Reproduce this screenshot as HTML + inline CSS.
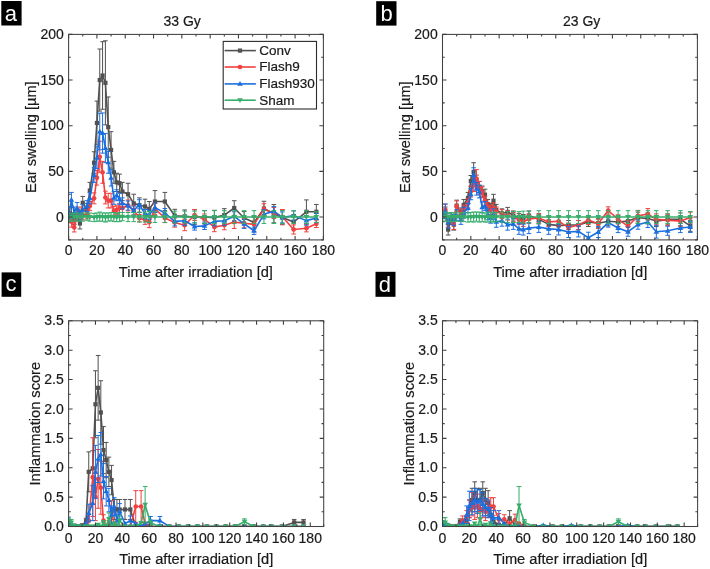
<!DOCTYPE html><html><head><meta charset="utf-8"><style>html,body{margin:0;padding:0;background:#fff;}svg{display:block;will-change:transform;}text{font-family:"Liberation Sans", sans-serif;fill:#1a1a1a;stroke:#1a1a1a;stroke-width:0.2px;}</style></head><body>
<svg width="710" height="569" viewBox="0 0 710 569">
<rect width="710" height="569" fill="#fff"/>
<g font-size="14">
<clipPath id="c6834"><rect x="68.6" y="34.4" width="254.8" height="205.5"/></clipPath>
<g clip-path="url(#c6834)">
<path d="M68.6 211.59V222.55M66.3 211.59H70.9M66.3 222.55H70.9M71.43 207.02V221.63M69.13 207.02H73.73M69.13 221.63H73.73M74.26 213.41V224.37M71.96 213.41H76.56M71.96 224.37H76.56M77.09 209.76V220.72M74.79 209.76H79.39M74.79 220.72H79.39M79.92 217.98V228.94M77.62 217.98H82.22M77.62 228.94H82.22M82.76 196.43V209.21M80.46 196.43H85.06M80.46 209.21H85.06M87 203.37V216.15M84.7 203.37H89.3M84.7 216.15H89.3M89.83 182.36V198.8M87.53 182.36H92.13M87.53 198.8H92.13M94.08 151.76V173.68M91.78 151.76H96.38M91.78 173.68H96.38M96.91 101.07V144.91M94.61 101.07H99.21M94.61 144.91H99.21M99.74 49.01V111.12M97.44 49.01H102.04M97.44 111.12H102.04M102.57 41.71V109.29M100.27 41.71H104.87M100.27 109.29H104.87M105.4 40.79V124.82M103.1 40.79H107.7M103.1 124.82H107.7M108.24 96.96V157.24M105.94 96.96H110.54M105.94 157.24H110.54M111.07 131.67V168.2M108.77 131.67H113.37M108.77 168.2H113.37M113.9 161.35V183.27M111.6 161.35H116.2M111.6 183.27H116.2M116.73 173.23V191.49M114.43 173.23H119.03M114.43 191.49H119.03M119.56 174.14V192.41M117.26 174.14H121.86M117.26 192.41H121.86M122.39 182.36V200.63M120.09 182.36H124.69M120.09 200.63H124.69M128.05 183.27V205.19M125.75 183.27H130.35M125.75 205.19H130.35M133.72 194.23V212.5M131.42 194.23H136.02M131.42 212.5H136.02M139.38 197.89V212.5M137.08 197.89H141.68M137.08 212.5H141.68M145.04 199.17V213.78M142.74 199.17H147.34M142.74 213.78H147.34M149.29 201.54V216.15M146.99 201.54H151.59M146.99 216.15H151.59M154.95 190.58V212.5M152.65 190.58H157.25M152.65 212.5H157.25M164.86 192.41V210.67M162.56 192.41H167.16M162.56 210.67H167.16M174.77 209.3V222.09M172.47 209.3H177.07M172.47 222.09H177.07M184.68 209.94V222.73M182.38 209.94H186.98M182.38 222.73H186.98M194.58 209.76V224.37M192.28 209.76H196.88M192.28 224.37H196.88M204.49 210.67V223.46M202.19 210.67H206.79M202.19 223.46H206.79M214.4 210.31V224.92M212.1 210.31H216.7M212.1 224.92H216.7M224.31 208.66V221.45M222.01 208.66H226.61M222.01 221.45H226.61M234.22 200.72V215.33M231.92 200.72H236.52M231.92 215.33H236.52M244.13 211.59V224.37M241.83 211.59H246.43M241.83 224.37H246.43M254.04 216.15V228.94M251.74 216.15H256.34M251.74 228.94H256.34M263.95 201.27V215.88M261.65 201.27H266.25M261.65 215.88H266.25M273.86 204.55V222.82M271.56 204.55H276.16M271.56 222.82H276.16M282.35 210.13V224.74M280.05 210.13H284.65M280.05 224.74H284.65M293.67 214.6V229.21M291.37 214.6H295.97M291.37 229.21H295.97M306.41 199.9V223.64M304.11 199.9H308.71M304.11 223.64H308.71M316.32 204.46V219.08M314.02 204.46H318.62M314.02 219.08H318.62" stroke="#515151" stroke-width="1" fill="none"/>
<polyline points="68.6,217.07 71.43,214.33 74.26,218.89 77.09,215.24 79.92,223.46 82.76,202.82 87,209.76 89.83,190.58 94.08,162.72 96.91,122.99 99.74,80.07 102.57,75.5 105.4,82.81 108.24,127.1 111.07,149.94 113.9,172.31 116.73,182.36 119.56,183.27 122.39,191.49 128.05,194.23 133.72,203.37 139.38,205.19 145.04,206.47 149.29,208.85 154.95,201.54 164.86,201.54 174.77,215.7 184.68,216.34 194.58,217.07 204.49,217.07 214.4,217.61 224.31,215.06 234.22,208.02 244.13,217.98 254.04,222.55 263.95,208.57 273.86,213.69 282.35,217.43 293.67,221.91 306.41,211.77 316.32,211.77" stroke="#515151" stroke-width="1.6" fill="none" stroke-linejoin="round"/>
<rect x="66.5" y="214.97" width="4.2" height="4.2" fill="#515151"/>
<rect x="69.33" y="212.23" width="4.2" height="4.2" fill="#515151"/>
<rect x="72.16" y="216.79" width="4.2" height="4.2" fill="#515151"/>
<rect x="74.99" y="213.14" width="4.2" height="4.2" fill="#515151"/>
<rect x="77.82" y="221.36" width="4.2" height="4.2" fill="#515151"/>
<rect x="80.66" y="200.72" width="4.2" height="4.2" fill="#515151"/>
<rect x="84.9" y="207.66" width="4.2" height="4.2" fill="#515151"/>
<rect x="87.73" y="188.48" width="4.2" height="4.2" fill="#515151"/>
<rect x="91.98" y="160.62" width="4.2" height="4.2" fill="#515151"/>
<rect x="94.81" y="120.89" width="4.2" height="4.2" fill="#515151"/>
<rect x="97.64" y="77.97" width="4.2" height="4.2" fill="#515151"/>
<rect x="100.47" y="73.4" width="4.2" height="4.2" fill="#515151"/>
<rect x="103.3" y="80.71" width="4.2" height="4.2" fill="#515151"/>
<rect x="106.14" y="125" width="4.2" height="4.2" fill="#515151"/>
<rect x="108.97" y="147.84" width="4.2" height="4.2" fill="#515151"/>
<rect x="111.8" y="170.21" width="4.2" height="4.2" fill="#515151"/>
<rect x="114.63" y="180.26" width="4.2" height="4.2" fill="#515151"/>
<rect x="117.46" y="181.17" width="4.2" height="4.2" fill="#515151"/>
<rect x="120.29" y="189.39" width="4.2" height="4.2" fill="#515151"/>
<rect x="125.95" y="192.13" width="4.2" height="4.2" fill="#515151"/>
<rect x="131.62" y="201.27" width="4.2" height="4.2" fill="#515151"/>
<rect x="137.28" y="203.09" width="4.2" height="4.2" fill="#515151"/>
<rect x="142.94" y="204.37" width="4.2" height="4.2" fill="#515151"/>
<rect x="147.19" y="206.75" width="4.2" height="4.2" fill="#515151"/>
<rect x="152.85" y="199.44" width="4.2" height="4.2" fill="#515151"/>
<rect x="162.76" y="199.44" width="4.2" height="4.2" fill="#515151"/>
<rect x="172.67" y="213.6" width="4.2" height="4.2" fill="#515151"/>
<rect x="182.58" y="214.24" width="4.2" height="4.2" fill="#515151"/>
<rect x="192.48" y="214.97" width="4.2" height="4.2" fill="#515151"/>
<rect x="202.39" y="214.97" width="4.2" height="4.2" fill="#515151"/>
<rect x="212.3" y="215.51" width="4.2" height="4.2" fill="#515151"/>
<rect x="222.21" y="212.96" width="4.2" height="4.2" fill="#515151"/>
<rect x="232.12" y="205.92" width="4.2" height="4.2" fill="#515151"/>
<rect x="242.03" y="215.88" width="4.2" height="4.2" fill="#515151"/>
<rect x="251.94" y="220.45" width="4.2" height="4.2" fill="#515151"/>
<rect x="261.85" y="206.47" width="4.2" height="4.2" fill="#515151"/>
<rect x="271.76" y="211.59" width="4.2" height="4.2" fill="#515151"/>
<rect x="280.25" y="215.33" width="4.2" height="4.2" fill="#515151"/>
<rect x="291.57" y="219.81" width="4.2" height="4.2" fill="#515151"/>
<rect x="304.31" y="209.67" width="4.2" height="4.2" fill="#515151"/>
<rect x="314.22" y="209.67" width="4.2" height="4.2" fill="#515151"/>
<path d="M68.6 212.5V221.63M66.3 212.5H70.9M66.3 221.63H70.9M71.43 216.15V227.11M69.13 216.15H73.73M69.13 227.11H73.73M74.26 222.82V231.95M71.96 222.82H76.56M71.96 231.95H76.56M77.09 209.76V218.89M74.79 209.76H79.39M74.79 218.89H79.39M79.92 207.02V217.98M77.62 207.02H82.22M77.62 217.98H82.22M82.76 210.67V219.81M80.46 210.67H85.06M80.46 219.81H85.06M87 209.76V218.89M84.7 209.76H89.3M84.7 218.89H89.3M89.83 201.54V210.67M87.53 201.54H92.13M87.53 210.67H92.13M94.08 192.86V203.82M91.78 192.86H96.38M91.78 203.82H96.38M96.91 170.49V185.1M94.61 170.49H99.21M94.61 185.1H99.21M99.74 141.26V172.31M97.44 141.26H102.04M97.44 172.31H102.04M102.57 161.35V183.27M100.27 161.35H104.87M100.27 183.27H104.87M105.4 191.13V203.91M103.1 191.13H107.7M103.1 203.91H107.7M108.24 193.32V207.93M105.94 193.32H110.54M105.94 207.93H110.54M111.07 193.32V207.93M108.77 193.32H113.37M108.77 207.93H113.37M113.9 206.38V215.51M111.6 206.38H116.2M111.6 215.51H116.2M116.73 205.19V214.33M114.43 205.19H119.03M114.43 214.33H119.03M119.56 203.37V212.5M117.26 203.37H121.86M117.26 212.5H121.86M122.39 203.37V212.5M120.09 203.37H124.69M120.09 212.5H124.69M128.05 199.99V210.95M125.75 199.99H130.35M125.75 210.95H130.35M133.72 205.65V214.78M131.42 205.65H136.02M131.42 214.78H136.02M139.38 214.51V221.82M137.08 214.51H141.68M137.08 221.82H141.68M145.04 215.24V224.37M142.74 215.24H147.34M142.74 224.37H147.34M149.29 216.7V227.66M146.99 216.7H151.59M146.99 227.66H151.59M154.95 203.37V214.33M152.65 203.37H157.25M152.65 214.33H157.25M164.86 213.41V222.55M162.56 213.41H167.16M162.56 222.55H167.16M174.77 217.98V227.11M172.47 217.98H177.07M172.47 227.11H177.07M184.68 219.72V230.68M182.38 219.72H186.98M182.38 230.68H186.98M194.58 209.58V220.54M192.28 209.58H196.88M192.28 220.54H196.88M204.49 213.96V224.92M202.19 213.96H206.79M202.19 224.92H206.79M214.4 222.55V231.68M212.1 222.55H216.7M212.1 231.68H216.7M224.31 220.63V229.76M222.01 220.63H226.61M222.01 229.76H226.61M234.22 215.7V228.48M231.92 215.7H236.52M231.92 228.48H236.52M244.13 218.62V227.75M241.83 218.62H246.43M241.83 227.75H246.43M254.04 217.07V231.68M251.74 217.07H256.34M251.74 231.68H256.34M263.95 203.73V214.69M261.65 203.73H266.25M261.65 214.69H266.25M273.86 207.57V218.53M271.56 207.57H276.16M271.56 218.53H276.16M282.35 209.49V224.1M280.05 209.49H284.65M280.05 224.1H284.65M293.67 224.92V234.05M291.37 224.92H295.97M291.37 234.05H295.97M306.41 224.56V231.86M304.11 224.56H308.71M304.11 231.86H308.71M316.32 220.17V227.48M314.02 220.17H318.62M314.02 227.48H318.62" stroke="#F14040" stroke-width="1" fill="none"/>
<polyline points="68.6,217.07 71.43,221.63 74.26,227.39 77.09,214.33 79.92,212.5 82.76,215.24 87,214.33 89.83,206.11 94.08,198.34 96.91,177.79 99.74,156.79 102.57,172.31 105.4,197.52 108.24,200.63 111.07,200.63 113.9,210.95 116.73,209.76 119.56,207.93 122.39,207.93 128.05,205.47 133.72,210.22 139.38,218.16 145.04,219.81 149.29,222.18 154.95,208.85 164.86,217.98 174.77,222.55 184.68,225.2 194.58,215.06 204.49,219.44 214.4,227.11 224.31,225.2 234.22,222.09 244.13,223.19 254.04,224.37 263.95,209.21 273.86,213.05 282.35,216.79 293.67,229.49 306.41,228.21 316.32,223.83" stroke="#F14040" stroke-width="1.6" fill="none" stroke-linejoin="round"/>
<circle cx="68.6" cy="217.07" r="2.35" fill="#F14040"/>
<circle cx="71.43" cy="221.63" r="2.35" fill="#F14040"/>
<circle cx="74.26" cy="227.39" r="2.35" fill="#F14040"/>
<circle cx="77.09" cy="214.33" r="2.35" fill="#F14040"/>
<circle cx="79.92" cy="212.5" r="2.35" fill="#F14040"/>
<circle cx="82.76" cy="215.24" r="2.35" fill="#F14040"/>
<circle cx="87" cy="214.33" r="2.35" fill="#F14040"/>
<circle cx="89.83" cy="206.11" r="2.35" fill="#F14040"/>
<circle cx="94.08" cy="198.34" r="2.35" fill="#F14040"/>
<circle cx="96.91" cy="177.79" r="2.35" fill="#F14040"/>
<circle cx="99.74" cy="156.79" r="2.35" fill="#F14040"/>
<circle cx="102.57" cy="172.31" r="2.35" fill="#F14040"/>
<circle cx="105.4" cy="197.52" r="2.35" fill="#F14040"/>
<circle cx="108.24" cy="200.63" r="2.35" fill="#F14040"/>
<circle cx="111.07" cy="200.63" r="2.35" fill="#F14040"/>
<circle cx="113.9" cy="210.95" r="2.35" fill="#F14040"/>
<circle cx="116.73" cy="209.76" r="2.35" fill="#F14040"/>
<circle cx="119.56" cy="207.93" r="2.35" fill="#F14040"/>
<circle cx="122.39" cy="207.93" r="2.35" fill="#F14040"/>
<circle cx="128.05" cy="205.47" r="2.35" fill="#F14040"/>
<circle cx="133.72" cy="210.22" r="2.35" fill="#F14040"/>
<circle cx="139.38" cy="218.16" r="2.35" fill="#F14040"/>
<circle cx="145.04" cy="219.81" r="2.35" fill="#F14040"/>
<circle cx="149.29" cy="222.18" r="2.35" fill="#F14040"/>
<circle cx="154.95" cy="208.85" r="2.35" fill="#F14040"/>
<circle cx="164.86" cy="217.98" r="2.35" fill="#F14040"/>
<circle cx="174.77" cy="222.55" r="2.35" fill="#F14040"/>
<circle cx="184.68" cy="225.2" r="2.35" fill="#F14040"/>
<circle cx="194.58" cy="215.06" r="2.35" fill="#F14040"/>
<circle cx="204.49" cy="219.44" r="2.35" fill="#F14040"/>
<circle cx="214.4" cy="227.11" r="2.35" fill="#F14040"/>
<circle cx="224.31" cy="225.2" r="2.35" fill="#F14040"/>
<circle cx="234.22" cy="222.09" r="2.35" fill="#F14040"/>
<circle cx="244.13" cy="223.19" r="2.35" fill="#F14040"/>
<circle cx="254.04" cy="224.37" r="2.35" fill="#F14040"/>
<circle cx="263.95" cy="209.21" r="2.35" fill="#F14040"/>
<circle cx="273.86" cy="213.05" r="2.35" fill="#F14040"/>
<circle cx="282.35" cy="216.79" r="2.35" fill="#F14040"/>
<circle cx="293.67" cy="229.49" r="2.35" fill="#F14040"/>
<circle cx="306.41" cy="228.21" r="2.35" fill="#F14040"/>
<circle cx="316.32" cy="223.83" r="2.35" fill="#F14040"/>
<path d="M68.6 212.5V221.63M66.3 212.5H70.9M66.3 221.63H70.9M71.43 192.41V207.02M69.13 192.41H73.73M69.13 207.02H73.73M74.26 207.02V217.98M71.96 207.02H76.56M71.96 217.98H76.56M77.09 202.45V213.41M74.79 202.45H79.39M74.79 213.41H79.39M79.92 210.67V219.81M77.62 210.67H82.22M77.62 219.81H82.22M82.76 204.28V215.24M80.46 204.28H85.06M80.46 215.24H85.06M87 200.63V211.59M84.7 200.63H89.3M84.7 211.59H89.3M89.83 192.86V203.82M87.53 192.86H92.13M87.53 203.82H92.13M94.08 167.75V182.36M91.78 167.75H96.38M91.78 182.36H96.38M96.91 146.74V168.66M94.61 146.74H99.21M94.61 168.66H99.21M99.74 113.22V149.75M97.44 113.22H102.04M97.44 149.75H102.04M102.57 112.95V153.13M100.27 112.95H104.87M100.27 153.13H104.87M105.4 133.41V162.63M103.1 133.41H107.7M103.1 162.63H107.7M108.24 151.31V173.23M105.94 151.31H110.54M105.94 173.23H110.54M111.07 169.57V186.01M108.77 169.57H113.37M108.77 186.01H113.37M113.9 191.49V204.28M111.6 191.49H116.2M111.6 204.28H116.2M116.73 189.76V200.72M114.43 189.76H119.03M114.43 200.72H119.03M119.56 193.32V204.28M117.26 193.32H121.86M117.26 204.28H121.86M122.39 197.89V208.85M120.09 197.89H124.69M120.09 208.85H124.69M128.05 200.99V210.13M125.75 200.99H130.35M125.75 210.13H130.35M133.72 206.11V215.24M131.42 206.11H136.02M131.42 215.24H136.02M139.38 199.71V208.85M137.08 199.71H141.68M137.08 208.85H141.68M145.04 209.49V218.62M142.74 209.49H147.34M142.74 218.62H147.34M149.29 210.22V219.35M146.99 210.22H151.59M146.99 219.35H151.59M154.95 203.09V212.23M152.65 203.09H157.25M152.65 212.23H157.25M164.86 208.48V217.61M162.56 208.48H167.16M162.56 217.61H167.16M174.77 216.79V225.93M172.47 216.79H177.07M172.47 225.93H177.07M184.68 216.15V225.29M182.38 216.15H186.98M182.38 225.29H186.98M194.58 222.82V230.13M192.28 222.82H196.88M192.28 230.13H196.88M204.49 222.18V229.49M202.19 222.18H206.79M202.19 229.49H206.79M214.4 216.79V225.93M212.1 216.79H216.7M212.1 225.93H216.7M224.31 216.15V225.29M222.01 216.15H226.61M222.01 225.29H226.61M234.22 211.77V220.9M231.92 211.77H236.52M231.92 220.9H236.52M244.13 219.26V228.39M241.83 219.26H246.43M241.83 228.39H246.43M254.04 227.11V234.42M251.74 227.11H256.34M251.74 234.42H256.34M263.95 209.76V218.89M261.65 209.76H266.25M261.65 218.89H266.25M273.86 206.56V215.7M271.56 206.56H276.16M271.56 215.7H276.16M282.35 211.95V222.91M280.05 211.95H284.65M280.05 222.91H284.65M293.67 210.95V220.08M291.37 210.95H295.97M291.37 220.08H295.97M306.41 216.06V225.2M304.11 216.06H308.71M304.11 225.2H308.71M316.32 213.5V222.64M314.02 213.5H318.62M314.02 222.64H318.62" stroke="#1A6FDF" stroke-width="1" fill="none"/>
<polyline points="68.6,217.07 71.43,199.71 74.26,212.5 77.09,207.93 79.92,215.24 82.76,209.76 87,206.11 89.83,198.34 94.08,175.05 96.91,157.7 99.74,131.49 102.57,133.04 105.4,148.02 108.24,162.27 111.07,177.79 113.9,197.89 116.73,195.24 119.56,198.8 122.39,203.37 128.05,205.56 133.72,210.67 139.38,204.28 145.04,214.05 149.29,214.78 154.95,207.66 164.86,213.05 174.77,221.36 184.68,220.72 194.58,226.47 204.49,225.83 214.4,221.36 224.31,220.72 234.22,216.34 244.13,223.83 254.04,230.77 263.95,214.33 273.86,211.13 282.35,217.43 293.67,215.51 306.41,220.63 316.32,218.07" stroke="#1A6FDF" stroke-width="1.6" fill="none" stroke-linejoin="round"/>
<path d="M68.6 214.27L71.4 219.03L65.8 219.03Z" fill="#1A6FDF"/>
<path d="M71.43 196.91L74.23 201.67L68.63 201.67Z" fill="#1A6FDF"/>
<path d="M74.26 209.7L77.06 214.46L71.46 214.46Z" fill="#1A6FDF"/>
<path d="M77.09 205.13L79.89 209.89L74.29 209.89Z" fill="#1A6FDF"/>
<path d="M79.92 212.44L82.72 217.2L77.12 217.2Z" fill="#1A6FDF"/>
<path d="M82.76 206.96L85.56 211.72L79.96 211.72Z" fill="#1A6FDF"/>
<path d="M87 203.31L89.8 208.07L84.2 208.07Z" fill="#1A6FDF"/>
<path d="M89.83 195.54L92.63 200.3L87.03 200.3Z" fill="#1A6FDF"/>
<path d="M94.08 172.25L96.88 177.01L91.28 177.01Z" fill="#1A6FDF"/>
<path d="M96.91 154.9L99.71 159.66L94.11 159.66Z" fill="#1A6FDF"/>
<path d="M99.74 128.69L102.54 133.45L96.94 133.45Z" fill="#1A6FDF"/>
<path d="M102.57 130.24L105.37 135L99.77 135Z" fill="#1A6FDF"/>
<path d="M105.4 145.22L108.2 149.98L102.6 149.98Z" fill="#1A6FDF"/>
<path d="M108.24 159.47L111.04 164.23L105.44 164.23Z" fill="#1A6FDF"/>
<path d="M111.07 174.99L113.87 179.75L108.27 179.75Z" fill="#1A6FDF"/>
<path d="M113.9 195.09L116.7 199.85L111.1 199.85Z" fill="#1A6FDF"/>
<path d="M116.73 192.44L119.53 197.2L113.93 197.2Z" fill="#1A6FDF"/>
<path d="M119.56 196L122.36 200.76L116.76 200.76Z" fill="#1A6FDF"/>
<path d="M122.39 200.57L125.19 205.33L119.59 205.33Z" fill="#1A6FDF"/>
<path d="M128.05 202.76L130.85 207.52L125.25 207.52Z" fill="#1A6FDF"/>
<path d="M133.72 207.87L136.52 212.63L130.92 212.63Z" fill="#1A6FDF"/>
<path d="M139.38 201.48L142.18 206.24L136.58 206.24Z" fill="#1A6FDF"/>
<path d="M145.04 211.25L147.84 216.01L142.24 216.01Z" fill="#1A6FDF"/>
<path d="M149.29 211.98L152.09 216.74L146.49 216.74Z" fill="#1A6FDF"/>
<path d="M154.95 204.86L157.75 209.62L152.15 209.62Z" fill="#1A6FDF"/>
<path d="M164.86 210.25L167.66 215.01L162.06 215.01Z" fill="#1A6FDF"/>
<path d="M174.77 218.56L177.57 223.32L171.97 223.32Z" fill="#1A6FDF"/>
<path d="M184.68 217.92L187.48 222.68L181.88 222.68Z" fill="#1A6FDF"/>
<path d="M194.58 223.67L197.38 228.43L191.78 228.43Z" fill="#1A6FDF"/>
<path d="M204.49 223.03L207.29 227.79L201.69 227.79Z" fill="#1A6FDF"/>
<path d="M214.4 218.56L217.2 223.32L211.6 223.32Z" fill="#1A6FDF"/>
<path d="M224.31 217.92L227.11 222.68L221.51 222.68Z" fill="#1A6FDF"/>
<path d="M234.22 213.54L237.02 218.3L231.42 218.3Z" fill="#1A6FDF"/>
<path d="M244.13 221.03L246.93 225.79L241.33 225.79Z" fill="#1A6FDF"/>
<path d="M254.04 227.97L256.84 232.73L251.24 232.73Z" fill="#1A6FDF"/>
<path d="M263.95 211.53L266.75 216.29L261.15 216.29Z" fill="#1A6FDF"/>
<path d="M273.86 208.33L276.66 213.09L271.06 213.09Z" fill="#1A6FDF"/>
<path d="M282.35 214.63L285.15 219.39L279.55 219.39Z" fill="#1A6FDF"/>
<path d="M293.67 212.71L296.47 217.47L290.87 217.47Z" fill="#1A6FDF"/>
<path d="M306.41 217.83L309.21 222.59L303.61 222.59Z" fill="#1A6FDF"/>
<path d="M316.32 215.27L319.12 220.03L313.52 220.03Z" fill="#1A6FDF"/>
<path d="M68.6 213.41V220.72M66.3 213.41H70.9M66.3 220.72H70.9M71.43 213.41V221.63M69.13 213.41H73.73M69.13 221.63H73.73M74.26 212.96V220.26M71.96 212.96H76.56M71.96 220.26H76.56M77.09 212.96V221.18M74.79 212.96H79.39M74.79 221.18H79.39M79.92 213.87V221.18M77.62 213.87H82.22M77.62 221.18H82.22M82.76 212.96V221.18M80.46 212.96H85.06M80.46 221.18H85.06M87 212.96V220.26M84.7 212.96H89.3M84.7 220.26H89.3M89.83 212.96V221.18M87.53 212.96H92.13M87.53 221.18H92.13M94.08 213.41V221.63M91.78 213.41H96.38M91.78 221.63H96.38M96.91 212.96V221.18M94.61 212.96H99.21M94.61 221.18H99.21M99.74 212.04V221.18M97.44 212.04H102.04M97.44 221.18H102.04M102.57 212.96V221.18M100.27 212.96H104.87M100.27 221.18H104.87M105.4 212.96V222.09M103.1 212.96H107.7M103.1 222.09H107.7M108.24 212.96V221.18M105.94 212.96H110.54M105.94 221.18H110.54M111.07 212.5V220.72M108.77 212.5H113.37M108.77 220.72H113.37M113.9 212.5V221.63M111.6 212.5H116.2M111.6 221.63H116.2M116.73 213.41V221.63M114.43 213.41H119.03M114.43 221.63H119.03M119.56 212.5V221.63M117.26 212.5H121.86M117.26 221.63H121.86M122.39 212.5V220.72M120.09 212.5H124.69M120.09 220.72H124.69M128.05 212.5V221.63M125.75 212.5H130.35M125.75 221.63H130.35M133.72 212.5V221.63M131.42 212.5H136.02M131.42 221.63H136.02M139.38 212.04V222.09M137.08 212.04H141.68M137.08 222.09H141.68M145.04 212.04V222.09M142.74 212.04H147.34M142.74 222.09H147.34M149.29 211.59V222.55M146.99 211.59H151.59M146.99 222.55H151.59M154.95 211.59V222.55M152.65 211.59H157.25M152.65 222.55H157.25M164.86 211.59V222.55M162.56 211.59H167.16M162.56 222.55H167.16M174.77 211.13V223M172.47 211.13H177.07M172.47 223H177.07M184.68 211.13V223M182.38 211.13H186.98M182.38 223H186.98M194.58 211.13V223M192.28 211.13H196.88M192.28 223H196.88M204.49 210.67V223.46M202.19 210.67H206.79M202.19 223.46H206.79M214.4 210.67V223.46M212.1 210.67H216.7M212.1 223.46H216.7M224.31 210.67V223.46M222.01 210.67H226.61M222.01 223.46H226.61M234.22 210.67V223.46M231.92 210.67H236.52M231.92 223.46H236.52M244.13 210.67V223.46M241.83 210.67H246.43M241.83 223.46H246.43M254.04 210.67V223.46M251.74 210.67H256.34M251.74 223.46H256.34M263.95 210.67V223.46M261.65 210.67H266.25M261.65 223.46H266.25M273.86 210.67V223.46M271.56 210.67H276.16M271.56 223.46H276.16M282.35 210.67V223.46M280.05 210.67H284.65M280.05 223.46H284.65M293.67 210.67V223.46M291.37 210.67H295.97M291.37 223.46H295.97M306.41 210.67V223.46M304.11 210.67H308.71M304.11 223.46H308.71M316.32 211.59V222.55M314.02 211.59H318.62M314.02 222.55H318.62" stroke="#37AD6B" stroke-width="1" fill="none"/>
<polyline points="68.6,217.07 71.43,217.52 74.26,216.61 77.09,217.07 79.92,217.52 82.76,217.07 87,216.61 89.83,217.07 94.08,217.52 96.91,217.07 99.74,216.61 102.57,217.07 105.4,217.52 108.24,217.07 111.07,216.61 113.9,217.07 116.73,217.52 119.56,217.07 122.39,216.61 128.05,217.07 133.72,217.07 139.38,217.07 145.04,217.07 149.29,217.07 154.95,217.07 164.86,217.07 174.77,217.07 184.68,217.07 194.58,217.07 204.49,217.07 214.4,217.07 224.31,217.07 234.22,217.07 244.13,217.07 254.04,217.07 263.95,217.07 273.86,217.07 282.35,217.07 293.67,217.07 306.41,217.07 316.32,217.07" stroke="#37AD6B" stroke-width="1.6" fill="none" stroke-linejoin="round"/>
<path d="M68.6 219.87L71.4 215.11L65.8 215.11Z" fill="#37AD6B"/>
<path d="M71.43 220.32L74.23 215.56L68.63 215.56Z" fill="#37AD6B"/>
<path d="M74.26 219.41L77.06 214.65L71.46 214.65Z" fill="#37AD6B"/>
<path d="M77.09 219.87L79.89 215.11L74.29 215.11Z" fill="#37AD6B"/>
<path d="M79.92 220.32L82.72 215.56L77.12 215.56Z" fill="#37AD6B"/>
<path d="M82.76 219.87L85.56 215.11L79.96 215.11Z" fill="#37AD6B"/>
<path d="M87 219.41L89.8 214.65L84.2 214.65Z" fill="#37AD6B"/>
<path d="M89.83 219.87L92.63 215.11L87.03 215.11Z" fill="#37AD6B"/>
<path d="M94.08 220.32L96.88 215.56L91.28 215.56Z" fill="#37AD6B"/>
<path d="M96.91 219.87L99.71 215.11L94.11 215.11Z" fill="#37AD6B"/>
<path d="M99.74 219.41L102.54 214.65L96.94 214.65Z" fill="#37AD6B"/>
<path d="M102.57 219.87L105.37 215.11L99.77 215.11Z" fill="#37AD6B"/>
<path d="M105.4 220.32L108.2 215.56L102.6 215.56Z" fill="#37AD6B"/>
<path d="M108.24 219.87L111.04 215.11L105.44 215.11Z" fill="#37AD6B"/>
<path d="M111.07 219.41L113.87 214.65L108.27 214.65Z" fill="#37AD6B"/>
<path d="M113.9 219.87L116.7 215.11L111.1 215.11Z" fill="#37AD6B"/>
<path d="M116.73 220.32L119.53 215.56L113.93 215.56Z" fill="#37AD6B"/>
<path d="M119.56 219.87L122.36 215.11L116.76 215.11Z" fill="#37AD6B"/>
<path d="M122.39 219.41L125.19 214.65L119.59 214.65Z" fill="#37AD6B"/>
<path d="M128.05 219.87L130.85 215.11L125.25 215.11Z" fill="#37AD6B"/>
<path d="M133.72 219.87L136.52 215.11L130.92 215.11Z" fill="#37AD6B"/>
<path d="M139.38 219.87L142.18 215.11L136.58 215.11Z" fill="#37AD6B"/>
<path d="M145.04 219.87L147.84 215.11L142.24 215.11Z" fill="#37AD6B"/>
<path d="M149.29 219.87L152.09 215.11L146.49 215.11Z" fill="#37AD6B"/>
<path d="M154.95 219.87L157.75 215.11L152.15 215.11Z" fill="#37AD6B"/>
<path d="M164.86 219.87L167.66 215.11L162.06 215.11Z" fill="#37AD6B"/>
<path d="M174.77 219.87L177.57 215.11L171.97 215.11Z" fill="#37AD6B"/>
<path d="M184.68 219.87L187.48 215.11L181.88 215.11Z" fill="#37AD6B"/>
<path d="M194.58 219.87L197.38 215.11L191.78 215.11Z" fill="#37AD6B"/>
<path d="M204.49 219.87L207.29 215.11L201.69 215.11Z" fill="#37AD6B"/>
<path d="M214.4 219.87L217.2 215.11L211.6 215.11Z" fill="#37AD6B"/>
<path d="M224.31 219.87L227.11 215.11L221.51 215.11Z" fill="#37AD6B"/>
<path d="M234.22 219.87L237.02 215.11L231.42 215.11Z" fill="#37AD6B"/>
<path d="M244.13 219.87L246.93 215.11L241.33 215.11Z" fill="#37AD6B"/>
<path d="M254.04 219.87L256.84 215.11L251.24 215.11Z" fill="#37AD6B"/>
<path d="M263.95 219.87L266.75 215.11L261.15 215.11Z" fill="#37AD6B"/>
<path d="M273.86 219.87L276.66 215.11L271.06 215.11Z" fill="#37AD6B"/>
<path d="M282.35 219.87L285.15 215.11L279.55 215.11Z" fill="#37AD6B"/>
<path d="M293.67 219.87L296.47 215.11L290.87 215.11Z" fill="#37AD6B"/>
<path d="M306.41 219.87L309.21 215.11L303.61 215.11Z" fill="#37AD6B"/>
<path d="M316.32 219.87L319.12 215.11L313.52 215.11Z" fill="#37AD6B"/>
</g>
<rect x="68.6" y="34.4" width="254.8" height="205.5" fill="none" stroke="#404040" stroke-width="1.05"/>
<path d="M68.6 239.9v-4M68.6 34.4v4M82.76 239.9v-2.2M82.76 34.4v2.2M96.91 239.9v-4M96.91 34.4v4M111.07 239.9v-2.2M111.07 34.4v2.2M125.22 239.9v-4M125.22 34.4v4M139.38 239.9v-2.2M139.38 34.4v2.2M153.53 239.9v-4M153.53 34.4v4M167.69 239.9v-2.2M167.69 34.4v2.2M181.84 239.9v-4M181.84 34.4v4M196 239.9v-2.2M196 34.4v2.2M210.16 239.9v-4M210.16 34.4v4M224.31 239.9v-2.2M224.31 34.4v2.2M238.47 239.9v-4M238.47 34.4v4M252.62 239.9v-2.2M252.62 34.4v2.2M266.78 239.9v-4M266.78 34.4v4M280.93 239.9v-2.2M280.93 34.4v2.2M295.09 239.9v-4M295.09 34.4v4M309.24 239.9v-2.2M309.24 34.4v2.2M323.4 239.9v-4M323.4 34.4v4M68.6 239.9h2.2M323.4 239.9h-2.2M68.6 217.07h4M323.4 217.07h-4M68.6 194.23h2.2M323.4 194.23h-2.2M68.6 171.4h4M323.4 171.4h-4M68.6 148.57h2.2M323.4 148.57h-2.2M68.6 125.73h4M323.4 125.73h-4M68.6 102.9h2.2M323.4 102.9h-2.2M68.6 80.07h4M323.4 80.07h-4M68.6 57.23h2.2M323.4 57.23h-2.2M68.6 34.4h4M323.4 34.4h-4" stroke="#404040" stroke-width="1.1" fill="none"/>
<text x="68.6" y="255.2" text-anchor="middle">0</text>
<text x="96.91" y="255.2" text-anchor="middle">20</text>
<text x="125.22" y="255.2" text-anchor="middle">40</text>
<text x="153.53" y="255.2" text-anchor="middle">60</text>
<text x="181.84" y="255.2" text-anchor="middle">80</text>
<text x="210.16" y="255.2" text-anchor="middle">100</text>
<text x="238.47" y="255.2" text-anchor="middle">120</text>
<text x="266.78" y="255.2" text-anchor="middle">140</text>
<text x="295.09" y="255.2" text-anchor="middle">160</text>
<text x="323.4" y="255.2" text-anchor="middle">180</text>
<text x="63.8" y="221.67" text-anchor="end">0</text>
<text x="63.8" y="176" text-anchor="end">50</text>
<text x="63.8" y="130.33" text-anchor="end">100</text>
<text x="63.8" y="84.67" text-anchor="end">150</text>
<text x="63.8" y="39" text-anchor="end">200</text>
<clipPath id="c44234"><rect x="442.5" y="34.4" width="254.9" height="205.5"/></clipPath>
<g clip-path="url(#c44234)">
<path d="M442.5 212.5V221.63M440.2 212.5H444.8M440.2 221.63H444.8M445.33 207.02V217.98M443.03 207.02H447.63M443.03 217.98H447.63M448.16 224.1V235.06M445.86 224.1H450.46M445.86 235.06H450.46M451 215.24V224.37M448.7 215.24H453.3M448.7 224.37H453.3M453.83 219.17V230.13M451.53 219.17H456.13M451.53 230.13H456.13M456.66 200.17V211.13M454.36 200.17H458.96M454.36 211.13H458.96M460.91 207.93V217.07M458.61 207.93H463.21M458.61 217.07H463.21M463.74 199.44V210.4M461.44 199.44H466.04M461.44 210.4H466.04M467.99 192.41V203.37M465.69 192.41H470.29M465.69 203.37H470.29M470.82 175.51V186.47M468.52 175.51H473.12M468.52 186.47H473.12M473.65 162.72V180.99M471.35 162.72H475.95M471.35 180.99H475.95M476.49 175.05V186.01M474.19 175.05H478.79M474.19 186.01H478.79M479.32 181.45V192.41M477.02 181.45H481.62M477.02 192.41H481.62M482.15 186.01V196.97M479.85 186.01H484.45M479.85 196.97H484.45M484.98 189.21V200.17M482.68 189.21H487.28M482.68 200.17H487.28M487.82 199.44V210.4M485.52 199.44H490.12M485.52 210.4H490.12M490.65 203.37V212.5M488.35 203.37H492.95M488.35 212.5H492.95M493.48 194.32V207.11M491.18 194.32H495.78M491.18 207.11H495.78M496.31 204.37V215.33M494.01 204.37H498.61M494.01 215.33H498.61M501.98 208.85V217.98M499.68 208.85H504.28M499.68 217.98H504.28M507.64 207.39V216.52M505.34 207.39H509.94M505.34 216.52H509.94M513.31 210.95V220.08M511.01 210.95H515.61M511.01 220.08H515.61M518.97 213.41V222.55M516.67 213.41H521.27M516.67 222.55H521.27M523.22 214.51V223.64M520.92 214.51H525.52M520.92 223.64H525.52M528.88 210.95V220.08M526.58 210.95H531.18M526.58 220.08H531.18M538.8 214.78V223.92M536.5 214.78H541.1M536.5 223.92H541.1M548.71 219.81V228.94M546.41 219.81H551.01M546.41 228.94H551.01M558.62 221.09V230.22M556.32 221.09H560.92M556.32 230.22H560.92M568.53 220.49V229.62M566.23 220.49H570.83M566.23 229.62H570.83M578.45 220.49V229.62M576.15 220.49H580.75M576.15 229.62H580.75M588.36 217.34V226.47M586.06 217.34H590.66M586.06 226.47H590.66M598.27 218.62V227.75M595.97 218.62H600.57M595.97 227.75H600.57M608.18 216.7V225.83M605.88 216.7H610.48M605.88 225.83H610.48M618.1 217.43V226.57M615.8 217.43H620.4M615.8 226.57H620.4M628.01 215.61V226.57M625.71 215.61H630.31M625.71 226.57H630.31M637.92 212.13V223.09M635.62 212.13H640.22M635.62 223.09H640.22M647.84 212.96V223.92M645.54 212.96H650.14M645.54 223.92H650.14M656.33 215.61V226.57M654.03 215.61H658.63M654.03 226.57H658.63M667.66 213.87V224.83M665.36 213.87H669.96M665.36 224.83H669.96M680.41 212.96V225.74M678.11 212.96H682.71M678.11 225.74H682.71M690.32 220.35V231.31M688.02 220.35H692.62M688.02 231.31H692.62" stroke="#515151" stroke-width="1" fill="none"/>
<polyline points="442.5,217.07 445.33,212.5 448.16,229.58 451,219.81 453.83,224.65 456.66,205.65 460.91,212.5 463.74,204.92 467.99,197.89 470.82,180.99 473.65,171.86 476.49,180.53 479.32,186.93 482.15,191.49 484.98,194.69 487.82,204.92 490.65,207.93 493.48,200.72 496.31,209.85 501.98,213.41 507.64,211.95 513.31,215.51 518.97,217.98 523.22,219.08 528.88,215.51 538.8,219.35 548.71,224.37 558.62,225.65 568.53,225.06 578.45,225.06 588.36,221.91 598.27,223.19 608.18,221.27 618.1,222 628.01,221.09 637.92,217.61 647.84,218.44 656.33,221.09 667.66,219.35 680.41,219.35 690.32,225.83" stroke="#515151" stroke-width="1.6" fill="none" stroke-linejoin="round"/>
<rect x="440.4" y="214.97" width="4.2" height="4.2" fill="#515151"/>
<rect x="443.23" y="210.4" width="4.2" height="4.2" fill="#515151"/>
<rect x="446.06" y="227.48" width="4.2" height="4.2" fill="#515151"/>
<rect x="448.9" y="217.71" width="4.2" height="4.2" fill="#515151"/>
<rect x="451.73" y="222.55" width="4.2" height="4.2" fill="#515151"/>
<rect x="454.56" y="203.55" width="4.2" height="4.2" fill="#515151"/>
<rect x="458.81" y="210.4" width="4.2" height="4.2" fill="#515151"/>
<rect x="461.64" y="202.82" width="4.2" height="4.2" fill="#515151"/>
<rect x="465.89" y="195.79" width="4.2" height="4.2" fill="#515151"/>
<rect x="468.72" y="178.89" width="4.2" height="4.2" fill="#515151"/>
<rect x="471.55" y="169.76" width="4.2" height="4.2" fill="#515151"/>
<rect x="474.39" y="178.43" width="4.2" height="4.2" fill="#515151"/>
<rect x="477.22" y="184.83" width="4.2" height="4.2" fill="#515151"/>
<rect x="480.05" y="189.39" width="4.2" height="4.2" fill="#515151"/>
<rect x="482.88" y="192.59" width="4.2" height="4.2" fill="#515151"/>
<rect x="485.72" y="202.82" width="4.2" height="4.2" fill="#515151"/>
<rect x="488.55" y="205.83" width="4.2" height="4.2" fill="#515151"/>
<rect x="491.38" y="198.62" width="4.2" height="4.2" fill="#515151"/>
<rect x="494.21" y="207.75" width="4.2" height="4.2" fill="#515151"/>
<rect x="499.88" y="211.31" width="4.2" height="4.2" fill="#515151"/>
<rect x="505.54" y="209.85" width="4.2" height="4.2" fill="#515151"/>
<rect x="511.21" y="213.41" width="4.2" height="4.2" fill="#515151"/>
<rect x="516.87" y="215.88" width="4.2" height="4.2" fill="#515151"/>
<rect x="521.12" y="216.98" width="4.2" height="4.2" fill="#515151"/>
<rect x="526.78" y="213.41" width="4.2" height="4.2" fill="#515151"/>
<rect x="536.7" y="217.25" width="4.2" height="4.2" fill="#515151"/>
<rect x="546.61" y="222.27" width="4.2" height="4.2" fill="#515151"/>
<rect x="556.52" y="223.55" width="4.2" height="4.2" fill="#515151"/>
<rect x="566.43" y="222.96" width="4.2" height="4.2" fill="#515151"/>
<rect x="576.35" y="222.96" width="4.2" height="4.2" fill="#515151"/>
<rect x="586.26" y="219.81" width="4.2" height="4.2" fill="#515151"/>
<rect x="596.17" y="221.09" width="4.2" height="4.2" fill="#515151"/>
<rect x="606.08" y="219.17" width="4.2" height="4.2" fill="#515151"/>
<rect x="616" y="219.9" width="4.2" height="4.2" fill="#515151"/>
<rect x="625.91" y="218.99" width="4.2" height="4.2" fill="#515151"/>
<rect x="635.82" y="215.51" width="4.2" height="4.2" fill="#515151"/>
<rect x="645.74" y="216.34" width="4.2" height="4.2" fill="#515151"/>
<rect x="654.23" y="218.99" width="4.2" height="4.2" fill="#515151"/>
<rect x="665.56" y="217.25" width="4.2" height="4.2" fill="#515151"/>
<rect x="678.31" y="217.25" width="4.2" height="4.2" fill="#515151"/>
<rect x="688.22" y="223.73" width="4.2" height="4.2" fill="#515151"/>
<path d="M442.5 212.5V221.63M440.2 212.5H444.8M440.2 221.63H444.8M445.33 204.28V215.24M443.03 204.28H447.63M443.03 215.24H447.63M448.16 216.15V227.11M445.86 216.15H450.46M445.86 227.11H450.46M451 212.5V221.63M448.7 212.5H453.3M448.7 221.63H453.3M453.83 218.53V229.49M451.53 218.53H456.13M451.53 229.49H456.13M456.66 200.9V211.86M454.36 200.9H458.96M454.36 211.86H458.96M460.91 209.76V218.89M458.61 209.76H463.21M458.61 218.89H463.21M463.74 205.19V214.33M461.44 205.19H466.04M461.44 214.33H466.04M467.99 198.8V207.93M465.69 198.8H470.29M465.69 207.93H470.29M470.82 186.01V196.97M468.52 186.01H473.12M468.52 196.97H473.12M473.65 178.71V191.49M471.35 178.71H475.95M471.35 191.49H475.95M476.49 169.57V187.84M474.19 169.57H478.79M474.19 187.84H478.79M479.32 181.45V194.23M477.02 181.45H481.62M477.02 194.23H481.62M482.15 186.93V197.89M479.85 186.93H484.45M479.85 197.89H484.45M484.98 196.06V205.19M482.68 196.06H487.28M482.68 205.19H487.28M487.82 202.45V211.59M485.52 202.45H490.12M485.52 211.59H490.12M490.65 205.19V214.33M488.35 205.19H492.95M488.35 214.33H492.95M493.48 203V213.96M491.18 203H495.78M491.18 213.96H495.78M496.31 207.02V216.15M494.01 207.02H498.61M494.01 216.15H498.61M501.98 209.58V218.71M499.68 209.58H504.28M499.68 218.71H504.28M507.64 210.95V220.08M505.34 210.95H509.94M505.34 220.08H509.94M513.31 212.5V221.63M511.01 212.5H515.61M511.01 221.63H515.61M518.97 215.24V224.37M516.67 215.24H521.27M516.67 224.37H521.27M523.22 217.25V226.38M520.92 217.25H525.52M520.92 226.38H525.52M528.88 214.33V223.46M526.58 214.33H531.18M526.58 223.46H531.18M538.8 213.5V222.64M536.5 213.5H541.1M536.5 222.64H541.1M548.71 217.34V226.47M546.41 217.34H551.01M546.41 226.47H551.01M558.62 216.7V225.83M556.32 216.7H560.92M556.32 225.83H560.92M568.53 223V232.14M566.23 223H570.83M566.23 232.14H570.83M578.45 220.49V229.62M576.15 220.49H580.75M576.15 229.62H580.75M588.36 215.42V224.56M586.06 215.42H590.66M586.06 224.56H590.66M598.27 219.26V228.39M595.97 219.26H600.57M595.97 228.39H600.57M608.18 206.84V214.14M605.88 206.84H610.48M605.88 214.14H610.48M618.1 214.78V223.92M615.8 214.78H620.4M615.8 223.92H620.4M628.01 220.72V231.68M625.71 220.72H630.31M625.71 231.68H630.31M637.92 210.4V221.36M635.62 210.4H640.22M635.62 221.36H640.22M647.84 208.57V219.53M645.54 208.57H650.14M645.54 219.53H650.14M656.33 213.87V224.83M654.03 213.87H658.63M654.03 224.83H658.63M667.66 214.78V225.74M665.36 214.78H669.96M665.36 225.74H669.96M680.41 215.61V226.57M678.11 215.61H682.71M678.11 226.57H682.71M690.32 212.13V223.09M688.02 212.13H692.62M688.02 223.09H692.62" stroke="#F14040" stroke-width="1" fill="none"/>
<polyline points="442.5,217.07 445.33,209.76 448.16,221.63 451,217.07 453.83,224.01 456.66,206.38 460.91,214.33 463.74,209.76 467.99,203.37 470.82,191.49 473.65,185.1 476.49,178.71 479.32,187.84 482.15,192.41 484.98,200.63 487.82,207.02 490.65,209.76 493.48,208.48 496.31,211.59 501.98,214.14 507.64,215.51 513.31,217.07 518.97,219.81 523.22,221.82 528.88,218.89 538.8,218.07 548.71,221.91 558.62,221.27 568.53,227.57 578.45,225.06 588.36,219.99 598.27,223.83 608.18,210.49 618.1,219.35 628.01,226.2 637.92,215.88 647.84,214.05 656.33,219.35 667.66,220.26 680.41,221.09 690.32,217.61" stroke="#F14040" stroke-width="1.6" fill="none" stroke-linejoin="round"/>
<circle cx="442.5" cy="217.07" r="2.35" fill="#F14040"/>
<circle cx="445.33" cy="209.76" r="2.35" fill="#F14040"/>
<circle cx="448.16" cy="221.63" r="2.35" fill="#F14040"/>
<circle cx="451" cy="217.07" r="2.35" fill="#F14040"/>
<circle cx="453.83" cy="224.01" r="2.35" fill="#F14040"/>
<circle cx="456.66" cy="206.38" r="2.35" fill="#F14040"/>
<circle cx="460.91" cy="214.33" r="2.35" fill="#F14040"/>
<circle cx="463.74" cy="209.76" r="2.35" fill="#F14040"/>
<circle cx="467.99" cy="203.37" r="2.35" fill="#F14040"/>
<circle cx="470.82" cy="191.49" r="2.35" fill="#F14040"/>
<circle cx="473.65" cy="185.1" r="2.35" fill="#F14040"/>
<circle cx="476.49" cy="178.71" r="2.35" fill="#F14040"/>
<circle cx="479.32" cy="187.84" r="2.35" fill="#F14040"/>
<circle cx="482.15" cy="192.41" r="2.35" fill="#F14040"/>
<circle cx="484.98" cy="200.63" r="2.35" fill="#F14040"/>
<circle cx="487.82" cy="207.02" r="2.35" fill="#F14040"/>
<circle cx="490.65" cy="209.76" r="2.35" fill="#F14040"/>
<circle cx="493.48" cy="208.48" r="2.35" fill="#F14040"/>
<circle cx="496.31" cy="211.59" r="2.35" fill="#F14040"/>
<circle cx="501.98" cy="214.14" r="2.35" fill="#F14040"/>
<circle cx="507.64" cy="215.51" r="2.35" fill="#F14040"/>
<circle cx="513.31" cy="217.07" r="2.35" fill="#F14040"/>
<circle cx="518.97" cy="219.81" r="2.35" fill="#F14040"/>
<circle cx="523.22" cy="221.82" r="2.35" fill="#F14040"/>
<circle cx="528.88" cy="218.89" r="2.35" fill="#F14040"/>
<circle cx="538.8" cy="218.07" r="2.35" fill="#F14040"/>
<circle cx="548.71" cy="221.91" r="2.35" fill="#F14040"/>
<circle cx="558.62" cy="221.27" r="2.35" fill="#F14040"/>
<circle cx="568.53" cy="227.57" r="2.35" fill="#F14040"/>
<circle cx="578.45" cy="225.06" r="2.35" fill="#F14040"/>
<circle cx="588.36" cy="219.99" r="2.35" fill="#F14040"/>
<circle cx="598.27" cy="223.83" r="2.35" fill="#F14040"/>
<circle cx="608.18" cy="210.49" r="2.35" fill="#F14040"/>
<circle cx="618.1" cy="219.35" r="2.35" fill="#F14040"/>
<circle cx="628.01" cy="226.2" r="2.35" fill="#F14040"/>
<circle cx="637.92" cy="215.88" r="2.35" fill="#F14040"/>
<circle cx="647.84" cy="214.05" r="2.35" fill="#F14040"/>
<circle cx="656.33" cy="219.35" r="2.35" fill="#F14040"/>
<circle cx="667.66" cy="220.26" r="2.35" fill="#F14040"/>
<circle cx="680.41" cy="221.09" r="2.35" fill="#F14040"/>
<circle cx="690.32" cy="217.61" r="2.35" fill="#F14040"/>
<path d="M442.5 212.5V221.63M440.2 212.5H444.8M440.2 221.63H444.8M445.33 203.91V218.53M443.03 203.91H447.63M443.03 218.53H447.63M448.16 217.07V228.03M445.86 217.07H450.46M445.86 228.03H450.46M451 212.5V221.63M448.7 212.5H453.3M448.7 221.63H453.3M453.83 214.33V225.29M451.53 214.33H456.13M451.53 225.29H456.13M456.66 209.76V220.72M454.36 209.76H458.96M454.36 220.72H458.96M460.91 215.24V224.37M458.61 215.24H463.21M458.61 224.37H463.21M463.74 207.2V218.16M461.44 207.2H466.04M461.44 218.16H466.04M467.99 203.37V212.5M465.69 203.37H470.29M465.69 212.5H470.29M470.82 188.75V199.71M468.52 188.75H473.12M468.52 199.71H473.12M473.65 167.75V182.36M471.35 167.75H475.95M471.35 182.36H475.95M476.49 182.36V195.15M474.19 182.36H478.79M474.19 195.15H478.79M479.32 185.1V197.89M477.02 185.1H481.62M477.02 197.89H481.62M482.15 201.91V212.87M479.85 201.91H484.45M479.85 212.87H484.45M484.98 201.54V210.67M482.68 201.54H487.28M482.68 210.67H487.28M487.82 208.85V219.81M485.52 208.85H490.12M485.52 219.81H490.12M490.65 212.23V223.19M488.35 212.23H492.95M488.35 223.19H492.95M493.48 208.85V219.81M491.18 208.85H495.78M491.18 219.81H495.78M496.31 216.34V227.3M494.01 216.34H498.61M494.01 227.3H498.61M501.98 215.24V226.2M499.68 215.24H504.28M499.68 226.2H504.28M507.64 219.17V230.13M505.34 219.17H509.94M505.34 230.13H509.94M513.31 218.44V229.4M511.01 218.44H515.61M511.01 229.4H515.61M518.97 223.37V234.33M516.67 223.37H521.27M516.67 234.33H521.27M523.22 224.1V235.06M520.92 224.1H525.52M520.92 235.06H525.52M528.88 222.64V233.6M526.58 222.64H531.18M526.58 233.6H531.18M538.8 221.45V232.41M536.5 221.45H541.1M536.5 232.41H541.1M548.71 223.37V234.33M546.41 223.37H551.01M546.41 234.33H551.01M558.62 224.01V234.97M556.32 224.01H560.92M556.32 234.97H560.92M568.53 226.57V237.53M566.23 226.57H570.83M566.23 237.53H570.83M578.45 225.93V236.89M576.15 225.93H580.75M576.15 236.89H580.75M588.36 232.23V243.19M586.06 232.23H590.66M586.06 243.19H590.66M598.27 226.57V237.53M595.97 226.57H600.57M595.97 237.53H600.57M608.18 217.98V227.11M605.88 217.98H610.48M605.88 227.11H610.48M618.1 223.46V232.59M615.8 223.46H620.4M615.8 232.59H620.4M628.01 227.11V236.25M625.71 227.11H630.31M625.71 236.25H630.31M637.92 220.08V229.21M635.62 220.08H640.22M635.62 229.21H640.22M647.84 216.52V227.48M645.54 216.52H650.14M645.54 227.48H650.14M656.33 225.29V238.07M654.03 225.29H658.63M654.03 238.07H658.63M667.66 226.2V235.33M665.36 226.2H669.96M665.36 235.33H669.96M680.41 223.46V232.59M678.11 223.46H682.71M678.11 232.59H682.71M690.32 221.45V232.41M688.02 221.45H692.62M688.02 232.41H692.62" stroke="#1A6FDF" stroke-width="1" fill="none"/>
<polyline points="442.5,217.07 445.33,211.22 448.16,222.55 451,217.07 453.83,219.81 456.66,215.24 460.91,219.81 463.74,212.68 467.99,207.93 470.82,194.23 473.65,175.05 476.49,188.75 479.32,191.49 482.15,207.39 484.98,206.11 487.82,214.33 490.65,217.71 493.48,214.33 496.31,221.82 501.98,220.72 507.64,224.65 513.31,223.92 518.97,228.85 523.22,229.58 528.88,228.12 538.8,226.93 548.71,228.85 558.62,229.49 568.53,232.05 578.45,231.41 588.36,237.71 598.27,232.05 608.18,222.55 618.1,228.03 628.01,231.68 637.92,224.65 647.84,222 656.33,231.68 667.66,230.77 680.41,228.03 690.32,226.93" stroke="#1A6FDF" stroke-width="1.6" fill="none" stroke-linejoin="round"/>
<path d="M442.5 214.27L445.3 219.03L439.7 219.03Z" fill="#1A6FDF"/>
<path d="M445.33 208.42L448.13 213.18L442.53 213.18Z" fill="#1A6FDF"/>
<path d="M448.16 219.75L450.96 224.51L445.36 224.51Z" fill="#1A6FDF"/>
<path d="M451 214.27L453.8 219.03L448.2 219.03Z" fill="#1A6FDF"/>
<path d="M453.83 217.01L456.63 221.77L451.03 221.77Z" fill="#1A6FDF"/>
<path d="M456.66 212.44L459.46 217.2L453.86 217.2Z" fill="#1A6FDF"/>
<path d="M460.91 217.01L463.71 221.77L458.11 221.77Z" fill="#1A6FDF"/>
<path d="M463.74 209.88L466.54 214.64L460.94 214.64Z" fill="#1A6FDF"/>
<path d="M467.99 205.13L470.79 209.89L465.19 209.89Z" fill="#1A6FDF"/>
<path d="M470.82 191.43L473.62 196.19L468.02 196.19Z" fill="#1A6FDF"/>
<path d="M473.65 172.25L476.45 177.01L470.85 177.01Z" fill="#1A6FDF"/>
<path d="M476.49 185.95L479.29 190.71L473.69 190.71Z" fill="#1A6FDF"/>
<path d="M479.32 188.69L482.12 193.45L476.52 193.45Z" fill="#1A6FDF"/>
<path d="M482.15 204.59L484.95 209.35L479.35 209.35Z" fill="#1A6FDF"/>
<path d="M484.98 203.31L487.78 208.07L482.18 208.07Z" fill="#1A6FDF"/>
<path d="M487.82 211.53L490.62 216.29L485.02 216.29Z" fill="#1A6FDF"/>
<path d="M490.65 214.91L493.45 219.67L487.85 219.67Z" fill="#1A6FDF"/>
<path d="M493.48 211.53L496.28 216.29L490.68 216.29Z" fill="#1A6FDF"/>
<path d="M496.31 219.02L499.11 223.78L493.51 223.78Z" fill="#1A6FDF"/>
<path d="M501.98 217.92L504.78 222.68L499.18 222.68Z" fill="#1A6FDF"/>
<path d="M507.64 221.85L510.44 226.61L504.84 226.61Z" fill="#1A6FDF"/>
<path d="M513.31 221.12L516.11 225.88L510.51 225.88Z" fill="#1A6FDF"/>
<path d="M518.97 226.05L521.77 230.81L516.17 230.81Z" fill="#1A6FDF"/>
<path d="M523.22 226.78L526.02 231.54L520.42 231.54Z" fill="#1A6FDF"/>
<path d="M528.88 225.32L531.68 230.08L526.08 230.08Z" fill="#1A6FDF"/>
<path d="M538.8 224.13L541.6 228.89L536 228.89Z" fill="#1A6FDF"/>
<path d="M548.71 226.05L551.51 230.81L545.91 230.81Z" fill="#1A6FDF"/>
<path d="M558.62 226.69L561.42 231.45L555.82 231.45Z" fill="#1A6FDF"/>
<path d="M568.53 229.25L571.33 234.01L565.73 234.01Z" fill="#1A6FDF"/>
<path d="M578.45 228.61L581.25 233.37L575.65 233.37Z" fill="#1A6FDF"/>
<path d="M588.36 234.91L591.16 239.67L585.56 239.67Z" fill="#1A6FDF"/>
<path d="M598.27 229.25L601.07 234.01L595.47 234.01Z" fill="#1A6FDF"/>
<path d="M608.18 219.75L610.98 224.51L605.38 224.51Z" fill="#1A6FDF"/>
<path d="M618.1 225.23L620.9 229.99L615.3 229.99Z" fill="#1A6FDF"/>
<path d="M628.01 228.88L630.81 233.64L625.21 233.64Z" fill="#1A6FDF"/>
<path d="M637.92 221.85L640.72 226.61L635.12 226.61Z" fill="#1A6FDF"/>
<path d="M647.84 219.2L650.64 223.96L645.04 223.96Z" fill="#1A6FDF"/>
<path d="M656.33 228.88L659.13 233.64L653.53 233.64Z" fill="#1A6FDF"/>
<path d="M667.66 227.97L670.46 232.73L664.86 232.73Z" fill="#1A6FDF"/>
<path d="M680.41 225.23L683.21 229.99L677.61 229.99Z" fill="#1A6FDF"/>
<path d="M690.32 224.13L693.12 228.89L687.52 228.89Z" fill="#1A6FDF"/>
<path d="M442.5 212.96V221.18M440.2 212.96H444.8M440.2 221.18H444.8M445.33 212.04V221.18M443.03 212.04H447.63M443.03 221.18H447.63M448.16 213.41V221.63M445.86 213.41H450.46M445.86 221.63H450.46M451 212.5V221.63M448.7 212.5H453.3M448.7 221.63H453.3M453.83 212.96V221.18M451.53 212.96H456.13M451.53 221.18H456.13M456.66 212.04V221.18M454.36 212.04H458.96M454.36 221.18H458.96M460.91 212.96V221.18M458.61 212.96H463.21M458.61 221.18H463.21M463.74 212.5V221.63M461.44 212.5H466.04M461.44 221.63H466.04M467.99 212.96V222.09M465.69 212.96H470.29M465.69 222.09H470.29M470.82 212.5V221.63M468.52 212.5H473.12M468.52 221.63H473.12M473.65 212.04V222.09M471.35 212.04H475.95M471.35 222.09H475.95M476.49 212.04V221.18M474.19 212.04H478.79M474.19 221.18H478.79M479.32 212.04V222.09M477.02 212.04H481.62M477.02 222.09H481.62M482.15 212.5V221.63M479.85 212.5H484.45M479.85 221.63H484.45M484.98 212.96V222.09M482.68 212.96H487.28M482.68 222.09H487.28M487.82 212.04V222.09M485.52 212.04H490.12M485.52 222.09H490.12M490.65 212.5V221.63M488.35 212.5H492.95M488.35 221.63H492.95M493.48 212.04V222.09M491.18 212.04H495.78M491.18 222.09H495.78M496.31 212.5V221.63M494.01 212.5H498.61M494.01 221.63H498.61M501.98 212.04V222.09M499.68 212.04H504.28M499.68 222.09H504.28M507.64 211.59V222.55M505.34 211.59H509.94M505.34 222.55H509.94M513.31 211.59V222.55M511.01 211.59H515.61M511.01 222.55H515.61M518.97 211.59V222.55M516.67 211.59H521.27M516.67 222.55H521.27M523.22 211.13V223M520.92 211.13H525.52M520.92 223H525.52M528.88 211.13V223M526.58 211.13H531.18M526.58 223H531.18M538.8 210.67V223.46M536.5 210.67H541.1M536.5 223.46H541.1M548.71 210.67V223.46M546.41 210.67H551.01M546.41 223.46H551.01M558.62 210.67V223.46M556.32 210.67H560.92M556.32 223.46H560.92M568.53 210.67V223.46M566.23 210.67H570.83M566.23 223.46H570.83M578.45 210.67V223.46M576.15 210.67H580.75M576.15 223.46H580.75M588.36 210.67V223.46M586.06 210.67H590.66M586.06 223.46H590.66M598.27 210.67V223.46M595.97 210.67H600.57M595.97 223.46H600.57M608.18 210.67V223.46M605.88 210.67H610.48M605.88 223.46H610.48M618.1 210.67V223.46M615.8 210.67H620.4M615.8 223.46H620.4M628.01 210.67V223.46M625.71 210.67H630.31M625.71 223.46H630.31M637.92 210.67V223.46M635.62 210.67H640.22M635.62 223.46H640.22M647.84 210.67V223.46M645.54 210.67H650.14M645.54 223.46H650.14M656.33 210.67V223.46M654.03 210.67H658.63M654.03 223.46H658.63M667.66 210.67V223.46M665.36 210.67H669.96M665.36 223.46H669.96M680.41 210.67V223.46M678.11 210.67H682.71M678.11 223.46H682.71M690.32 211.59V222.55M688.02 211.59H692.62M688.02 222.55H692.62" stroke="#37AD6B" stroke-width="1" fill="none"/>
<polyline points="442.5,217.07 445.33,216.61 448.16,217.52 451,217.07 453.83,217.07 456.66,216.61 460.91,217.07 463.74,217.07 467.99,217.52 470.82,217.07 473.65,217.07 476.49,216.61 479.32,217.07 482.15,217.07 484.98,217.52 487.82,217.07 490.65,217.07 493.48,217.07 496.31,217.07 501.98,217.07 507.64,217.07 513.31,217.07 518.97,217.07 523.22,217.07 528.88,217.07 538.8,217.07 548.71,217.07 558.62,217.07 568.53,217.07 578.45,217.07 588.36,217.07 598.27,217.07 608.18,217.07 618.1,217.07 628.01,217.07 637.92,217.07 647.84,217.07 656.33,217.07 667.66,217.07 680.41,217.07 690.32,217.07" stroke="#37AD6B" stroke-width="1.6" fill="none" stroke-linejoin="round"/>
<path d="M442.5 219.87L445.3 215.11L439.7 215.11Z" fill="#37AD6B"/>
<path d="M445.33 219.41L448.13 214.65L442.53 214.65Z" fill="#37AD6B"/>
<path d="M448.16 220.32L450.96 215.56L445.36 215.56Z" fill="#37AD6B"/>
<path d="M451 219.87L453.8 215.11L448.2 215.11Z" fill="#37AD6B"/>
<path d="M453.83 219.87L456.63 215.11L451.03 215.11Z" fill="#37AD6B"/>
<path d="M456.66 219.41L459.46 214.65L453.86 214.65Z" fill="#37AD6B"/>
<path d="M460.91 219.87L463.71 215.11L458.11 215.11Z" fill="#37AD6B"/>
<path d="M463.74 219.87L466.54 215.11L460.94 215.11Z" fill="#37AD6B"/>
<path d="M467.99 220.32L470.79 215.56L465.19 215.56Z" fill="#37AD6B"/>
<path d="M470.82 219.87L473.62 215.11L468.02 215.11Z" fill="#37AD6B"/>
<path d="M473.65 219.87L476.45 215.11L470.85 215.11Z" fill="#37AD6B"/>
<path d="M476.49 219.41L479.29 214.65L473.69 214.65Z" fill="#37AD6B"/>
<path d="M479.32 219.87L482.12 215.11L476.52 215.11Z" fill="#37AD6B"/>
<path d="M482.15 219.87L484.95 215.11L479.35 215.11Z" fill="#37AD6B"/>
<path d="M484.98 220.32L487.78 215.56L482.18 215.56Z" fill="#37AD6B"/>
<path d="M487.82 219.87L490.62 215.11L485.02 215.11Z" fill="#37AD6B"/>
<path d="M490.65 219.87L493.45 215.11L487.85 215.11Z" fill="#37AD6B"/>
<path d="M493.48 219.87L496.28 215.11L490.68 215.11Z" fill="#37AD6B"/>
<path d="M496.31 219.87L499.11 215.11L493.51 215.11Z" fill="#37AD6B"/>
<path d="M501.98 219.87L504.78 215.11L499.18 215.11Z" fill="#37AD6B"/>
<path d="M507.64 219.87L510.44 215.11L504.84 215.11Z" fill="#37AD6B"/>
<path d="M513.31 219.87L516.11 215.11L510.51 215.11Z" fill="#37AD6B"/>
<path d="M518.97 219.87L521.77 215.11L516.17 215.11Z" fill="#37AD6B"/>
<path d="M523.22 219.87L526.02 215.11L520.42 215.11Z" fill="#37AD6B"/>
<path d="M528.88 219.87L531.68 215.11L526.08 215.11Z" fill="#37AD6B"/>
<path d="M538.8 219.87L541.6 215.11L536 215.11Z" fill="#37AD6B"/>
<path d="M548.71 219.87L551.51 215.11L545.91 215.11Z" fill="#37AD6B"/>
<path d="M558.62 219.87L561.42 215.11L555.82 215.11Z" fill="#37AD6B"/>
<path d="M568.53 219.87L571.33 215.11L565.73 215.11Z" fill="#37AD6B"/>
<path d="M578.45 219.87L581.25 215.11L575.65 215.11Z" fill="#37AD6B"/>
<path d="M588.36 219.87L591.16 215.11L585.56 215.11Z" fill="#37AD6B"/>
<path d="M598.27 219.87L601.07 215.11L595.47 215.11Z" fill="#37AD6B"/>
<path d="M608.18 219.87L610.98 215.11L605.38 215.11Z" fill="#37AD6B"/>
<path d="M618.1 219.87L620.9 215.11L615.3 215.11Z" fill="#37AD6B"/>
<path d="M628.01 219.87L630.81 215.11L625.21 215.11Z" fill="#37AD6B"/>
<path d="M637.92 219.87L640.72 215.11L635.12 215.11Z" fill="#37AD6B"/>
<path d="M647.84 219.87L650.64 215.11L645.04 215.11Z" fill="#37AD6B"/>
<path d="M656.33 219.87L659.13 215.11L653.53 215.11Z" fill="#37AD6B"/>
<path d="M667.66 219.87L670.46 215.11L664.86 215.11Z" fill="#37AD6B"/>
<path d="M680.41 219.87L683.21 215.11L677.61 215.11Z" fill="#37AD6B"/>
<path d="M690.32 219.87L693.12 215.11L687.52 215.11Z" fill="#37AD6B"/>
</g>
<rect x="442.5" y="34.4" width="254.9" height="205.5" fill="none" stroke="#404040" stroke-width="1.05"/>
<path d="M442.5 239.9v-4M442.5 34.4v4M456.66 239.9v-2.2M456.66 34.4v2.2M470.82 239.9v-4M470.82 34.4v4M484.98 239.9v-2.2M484.98 34.4v2.2M499.14 239.9v-4M499.14 34.4v4M513.31 239.9v-2.2M513.31 34.4v2.2M527.47 239.9v-4M527.47 34.4v4M541.63 239.9v-2.2M541.63 34.4v2.2M555.79 239.9v-4M555.79 34.4v4M569.95 239.9v-2.2M569.95 34.4v2.2M584.11 239.9v-4M584.11 34.4v4M598.27 239.9v-2.2M598.27 34.4v2.2M612.43 239.9v-4M612.43 34.4v4M626.59 239.9v-2.2M626.59 34.4v2.2M640.76 239.9v-4M640.76 34.4v4M654.92 239.9v-2.2M654.92 34.4v2.2M669.08 239.9v-4M669.08 34.4v4M683.24 239.9v-2.2M683.24 34.4v2.2M697.4 239.9v-4M697.4 34.4v4M442.5 239.9h2.2M697.4 239.9h-2.2M442.5 217.07h4M697.4 217.07h-4M442.5 194.23h2.2M697.4 194.23h-2.2M442.5 171.4h4M697.4 171.4h-4M442.5 148.57h2.2M697.4 148.57h-2.2M442.5 125.73h4M697.4 125.73h-4M442.5 102.9h2.2M697.4 102.9h-2.2M442.5 80.07h4M697.4 80.07h-4M442.5 57.23h2.2M697.4 57.23h-2.2M442.5 34.4h4M697.4 34.4h-4" stroke="#404040" stroke-width="1.1" fill="none"/>
<text x="442.5" y="255.2" text-anchor="middle">0</text>
<text x="470.82" y="255.2" text-anchor="middle">20</text>
<text x="499.14" y="255.2" text-anchor="middle">40</text>
<text x="527.47" y="255.2" text-anchor="middle">60</text>
<text x="555.79" y="255.2" text-anchor="middle">80</text>
<text x="584.11" y="255.2" text-anchor="middle">100</text>
<text x="612.43" y="255.2" text-anchor="middle">120</text>
<text x="640.76" y="255.2" text-anchor="middle">140</text>
<text x="669.08" y="255.2" text-anchor="middle">160</text>
<text x="697.4" y="255.2" text-anchor="middle">180</text>
<text x="437.7" y="221.67" text-anchor="end">0</text>
<text x="437.7" y="176" text-anchor="end">50</text>
<text x="437.7" y="130.33" text-anchor="end">100</text>
<text x="437.7" y="84.67" text-anchor="end">150</text>
<text x="437.7" y="39" text-anchor="end">200</text>
<clipPath id="c68320"><rect x="68.6" y="320.8" width="255.1" height="205.7"/></clipPath>
<g clip-path="url(#c68320)">
<path d="M86.05 518.27V524.15M83.75 518.27H88.35M83.75 524.15H88.35M88.74 451.86V491.82M86.44 451.86H91.04M86.44 491.82H91.04M92.77 450.68V485.95M90.47 450.68H95.07M90.47 485.95H95.07M95.45 370.76V437.76M93.15 370.76H97.75M93.15 437.76H97.75M98.14 355.48V420.12M95.84 355.48H100.44M95.84 420.12H100.44M100.82 380.75V444.22M98.52 380.75H103.12M98.52 444.22H103.12M103.51 426.59V473.61M101.21 426.59H105.81M101.21 473.61H105.81M106.19 442.46V477.72M103.89 442.46H108.49M103.89 477.72H108.49M108.88 457.15V486.54M106.58 457.15H111.18M106.58 486.54H111.18M111.56 465.38V494.76M109.26 465.38H113.86M109.26 494.76H113.86M114.25 499.47V519.45M111.95 499.47H116.55M111.95 519.45H116.55M116.93 499.47V519.45M114.63 499.47H119.23M114.63 519.45H119.23M119.62 499.47V519.45M117.32 499.47H121.92M117.32 519.45H121.92M124.99 499.47V519.45M122.69 499.47H127.29M122.69 519.45H127.29M130.36 499.47V519.45M128.06 499.47H132.66M128.06 519.45H132.66M294.16 519.45V525.32M291.86 519.45H296.46M291.86 525.32H296.46M303.56 519.45V525.32M301.26 519.45H305.86M301.26 525.32H305.86" stroke="#515151" stroke-width="1" fill="none"/>
<polyline points="68.6,526.5 71.29,526.5 73.97,526.5 76.66,526.5 79.34,526.5 82.03,525.32 86.05,521.21 88.74,471.84 92.77,468.32 95.45,404.26 98.14,387.8 100.82,412.48 103.51,450.1 106.19,460.09 108.88,471.84 111.56,480.07 114.25,509.46 116.93,509.46 119.62,509.46 124.99,509.46 130.36,509.46 135.73,526.5 141.1,526.5 145.13,526.5 150.5,526.5 159.9,526.5 169.3,526.5 178.7,526.5 188.09,526.5 197.49,526.5 206.89,526.5 216.29,526.5 225.69,526.5 235.09,526.5 244.48,526.5 253.88,526.5 263.28,526.5 271.34,526.5 282.08,526.5 294.16,522.39 303.56,522.39" stroke="#515151" stroke-width="1.6" fill="none" stroke-linejoin="round"/>
<rect x="66.5" y="524.4" width="4.2" height="4.2" fill="#515151"/>
<rect x="69.19" y="524.4" width="4.2" height="4.2" fill="#515151"/>
<rect x="71.87" y="524.4" width="4.2" height="4.2" fill="#515151"/>
<rect x="74.56" y="524.4" width="4.2" height="4.2" fill="#515151"/>
<rect x="77.24" y="524.4" width="4.2" height="4.2" fill="#515151"/>
<rect x="79.93" y="523.22" width="4.2" height="4.2" fill="#515151"/>
<rect x="83.95" y="519.11" width="4.2" height="4.2" fill="#515151"/>
<rect x="86.64" y="469.74" width="4.2" height="4.2" fill="#515151"/>
<rect x="90.67" y="466.22" width="4.2" height="4.2" fill="#515151"/>
<rect x="93.35" y="402.16" width="4.2" height="4.2" fill="#515151"/>
<rect x="96.04" y="385.7" width="4.2" height="4.2" fill="#515151"/>
<rect x="98.72" y="410.38" width="4.2" height="4.2" fill="#515151"/>
<rect x="101.41" y="448" width="4.2" height="4.2" fill="#515151"/>
<rect x="104.09" y="457.99" width="4.2" height="4.2" fill="#515151"/>
<rect x="106.78" y="469.74" width="4.2" height="4.2" fill="#515151"/>
<rect x="109.46" y="477.97" width="4.2" height="4.2" fill="#515151"/>
<rect x="112.15" y="507.36" width="4.2" height="4.2" fill="#515151"/>
<rect x="114.83" y="507.36" width="4.2" height="4.2" fill="#515151"/>
<rect x="117.52" y="507.36" width="4.2" height="4.2" fill="#515151"/>
<rect x="122.89" y="507.36" width="4.2" height="4.2" fill="#515151"/>
<rect x="128.26" y="507.36" width="4.2" height="4.2" fill="#515151"/>
<rect x="133.63" y="524.4" width="4.2" height="4.2" fill="#515151"/>
<rect x="139" y="524.4" width="4.2" height="4.2" fill="#515151"/>
<rect x="143.03" y="524.4" width="4.2" height="4.2" fill="#515151"/>
<rect x="148.4" y="524.4" width="4.2" height="4.2" fill="#515151"/>
<rect x="157.8" y="524.4" width="4.2" height="4.2" fill="#515151"/>
<rect x="167.2" y="524.4" width="4.2" height="4.2" fill="#515151"/>
<rect x="176.6" y="524.4" width="4.2" height="4.2" fill="#515151"/>
<rect x="185.99" y="524.4" width="4.2" height="4.2" fill="#515151"/>
<rect x="195.39" y="524.4" width="4.2" height="4.2" fill="#515151"/>
<rect x="204.79" y="524.4" width="4.2" height="4.2" fill="#515151"/>
<rect x="214.19" y="524.4" width="4.2" height="4.2" fill="#515151"/>
<rect x="223.59" y="524.4" width="4.2" height="4.2" fill="#515151"/>
<rect x="232.99" y="524.4" width="4.2" height="4.2" fill="#515151"/>
<rect x="242.38" y="524.4" width="4.2" height="4.2" fill="#515151"/>
<rect x="251.78" y="524.4" width="4.2" height="4.2" fill="#515151"/>
<rect x="261.18" y="524.4" width="4.2" height="4.2" fill="#515151"/>
<rect x="269.24" y="524.4" width="4.2" height="4.2" fill="#515151"/>
<rect x="279.98" y="524.4" width="4.2" height="4.2" fill="#515151"/>
<rect x="292.06" y="520.29" width="4.2" height="4.2" fill="#515151"/>
<rect x="301.46" y="520.29" width="4.2" height="4.2" fill="#515151"/>
<path d="M88.74 514.75V526.5M86.44 514.75H91.04M86.44 526.5H91.04M92.77 437.76V516.51M90.47 437.76H95.07M90.47 516.51H95.07M95.45 473.61V520.62M93.15 473.61H97.75M93.15 520.62H97.75M98.14 449.51V508.28M95.84 449.51H100.44M95.84 508.28H100.44M100.82 461.26V514.16M98.52 461.26H103.12M98.52 514.16H103.12M103.51 514.75V526.5M101.21 514.75H105.81M101.21 526.5H105.81M108.88 520.62V526.5M106.58 520.62H111.18M106.58 526.5H111.18M111.56 500.64V524.15M109.26 500.64H113.86M109.26 524.15H113.86M135.73 490.65V522.39M133.43 490.65H138.03M133.43 522.39H138.03M141.1 490.65V522.39M138.8 490.65H143.4M138.8 522.39H143.4" stroke="#F14040" stroke-width="1" fill="none"/>
<polyline points="68.6,526.5 71.29,526.5 73.97,526.5 76.66,526.5 79.34,526.5 82.03,526.5 86.05,526.5 88.74,520.62 92.77,477.13 95.45,497.11 98.14,478.9 100.82,487.71 103.51,520.62 106.19,526.5 108.88,523.56 111.56,512.39 114.25,523.56 116.93,526.5 119.62,526.5 124.99,526.5 130.36,526.5 135.73,506.52 141.1,506.52 145.13,523.56 150.5,526.5 159.9,526.5 169.3,526.5 178.7,526.5 188.09,526.5 197.49,526.5 206.89,526.5 216.29,526.5 225.69,526.5 235.09,526.5 244.48,526.5 253.88,526.5 263.28,526.5 271.34,526.5 282.08,526.5 294.16,526.5 303.56,526.5" stroke="#F14040" stroke-width="1.6" fill="none" stroke-linejoin="round"/>
<circle cx="68.6" cy="526.5" r="2.35" fill="#F14040"/>
<circle cx="71.29" cy="526.5" r="2.35" fill="#F14040"/>
<circle cx="73.97" cy="526.5" r="2.35" fill="#F14040"/>
<circle cx="76.66" cy="526.5" r="2.35" fill="#F14040"/>
<circle cx="79.34" cy="526.5" r="2.35" fill="#F14040"/>
<circle cx="82.03" cy="526.5" r="2.35" fill="#F14040"/>
<circle cx="86.05" cy="526.5" r="2.35" fill="#F14040"/>
<circle cx="88.74" cy="520.62" r="2.35" fill="#F14040"/>
<circle cx="92.77" cy="477.13" r="2.35" fill="#F14040"/>
<circle cx="95.45" cy="497.11" r="2.35" fill="#F14040"/>
<circle cx="98.14" cy="478.9" r="2.35" fill="#F14040"/>
<circle cx="100.82" cy="487.71" r="2.35" fill="#F14040"/>
<circle cx="103.51" cy="520.62" r="2.35" fill="#F14040"/>
<circle cx="106.19" cy="526.5" r="2.35" fill="#F14040"/>
<circle cx="108.88" cy="523.56" r="2.35" fill="#F14040"/>
<circle cx="111.56" cy="512.39" r="2.35" fill="#F14040"/>
<circle cx="114.25" cy="523.56" r="2.35" fill="#F14040"/>
<circle cx="116.93" cy="526.5" r="2.35" fill="#F14040"/>
<circle cx="119.62" cy="526.5" r="2.35" fill="#F14040"/>
<circle cx="124.99" cy="526.5" r="2.35" fill="#F14040"/>
<circle cx="130.36" cy="526.5" r="2.35" fill="#F14040"/>
<circle cx="135.73" cy="506.52" r="2.35" fill="#F14040"/>
<circle cx="141.1" cy="506.52" r="2.35" fill="#F14040"/>
<circle cx="145.13" cy="523.56" r="2.35" fill="#F14040"/>
<circle cx="150.5" cy="526.5" r="2.35" fill="#F14040"/>
<circle cx="159.9" cy="526.5" r="2.35" fill="#F14040"/>
<circle cx="169.3" cy="526.5" r="2.35" fill="#F14040"/>
<circle cx="178.7" cy="526.5" r="2.35" fill="#F14040"/>
<circle cx="188.09" cy="526.5" r="2.35" fill="#F14040"/>
<circle cx="197.49" cy="526.5" r="2.35" fill="#F14040"/>
<circle cx="206.89" cy="526.5" r="2.35" fill="#F14040"/>
<circle cx="216.29" cy="526.5" r="2.35" fill="#F14040"/>
<circle cx="225.69" cy="526.5" r="2.35" fill="#F14040"/>
<circle cx="235.09" cy="526.5" r="2.35" fill="#F14040"/>
<circle cx="244.48" cy="526.5" r="2.35" fill="#F14040"/>
<circle cx="253.88" cy="526.5" r="2.35" fill="#F14040"/>
<circle cx="263.28" cy="526.5" r="2.35" fill="#F14040"/>
<circle cx="271.34" cy="526.5" r="2.35" fill="#F14040"/>
<circle cx="282.08" cy="526.5" r="2.35" fill="#F14040"/>
<circle cx="294.16" cy="526.5" r="2.35" fill="#F14040"/>
<circle cx="303.56" cy="526.5" r="2.35" fill="#F14040"/>
<path d="M68.6 517.1V526.5M66.3 517.1H70.9M66.3 526.5H70.9M88.74 504.17V521.8M86.44 504.17H91.04M86.44 521.8H91.04M92.77 485.36V520.62M90.47 485.36H95.07M90.47 520.62H95.07M95.45 445.4V498.29M93.15 445.4H97.75M93.15 498.29H97.75M98.14 435.4V482.42M95.84 435.4H100.44M95.84 482.42H100.44M100.82 432.47V475.96M98.52 432.47H103.12M98.52 475.96H103.12M103.51 463.61V498.88M101.21 463.61H105.81M101.21 498.88H105.81M106.19 476.54V505.93M103.89 476.54H108.49M103.89 505.93H108.49M108.88 488.3V511.81M106.58 488.3H111.18M106.58 511.81H111.18M111.56 505.93V523.56M109.26 505.93H113.86M109.26 523.56H113.86M114.25 497.7V515.33M111.95 497.7H116.55M111.95 515.33H116.55M116.93 514.75V526.5M114.63 514.75H119.23M114.63 526.5H119.23M119.62 503.58V518.86M117.32 503.58H121.92M117.32 518.86H121.92M130.36 515.92V525.32M128.06 515.92H132.66M128.06 525.32H132.66M150.5 516.51V524.74M148.2 516.51H152.8M148.2 524.74H152.8M159.9 516.51V524.74M157.6 516.51H162.2M157.6 524.74H162.2" stroke="#1A6FDF" stroke-width="1" fill="none"/>
<polyline points="68.6,521.8 71.29,524.74 73.97,526.5 76.66,526.5 79.34,526.5 82.03,526.5 86.05,523.56 88.74,512.98 92.77,502.99 95.45,471.84 98.14,458.91 100.82,454.21 103.51,481.25 106.19,491.24 108.88,500.05 111.56,514.75 114.25,506.52 116.93,520.62 119.62,511.22 124.99,523.56 130.36,520.62 135.73,523.56 141.1,526.5 145.13,523.56 150.5,520.62 159.9,520.62 169.3,526.5 178.7,526.5 188.09,526.5 197.49,526.5 206.89,526.5 216.29,526.5 225.69,526.5 235.09,526.5 244.48,526.5 253.88,526.5 263.28,526.5 271.34,526.5 282.08,526.5 294.16,526.5 303.56,526.5" stroke="#1A6FDF" stroke-width="1.6" fill="none" stroke-linejoin="round"/>
<path d="M68.6 519L71.4 523.76L65.8 523.76Z" fill="#1A6FDF"/>
<path d="M71.29 521.94L74.09 526.7L68.49 526.7Z" fill="#1A6FDF"/>
<path d="M73.97 523.7L76.77 528.46L71.17 528.46Z" fill="#1A6FDF"/>
<path d="M76.66 523.7L79.46 528.46L73.86 528.46Z" fill="#1A6FDF"/>
<path d="M79.34 523.7L82.14 528.46L76.54 528.46Z" fill="#1A6FDF"/>
<path d="M82.03 523.7L84.83 528.46L79.23 528.46Z" fill="#1A6FDF"/>
<path d="M86.05 520.76L88.85 525.52L83.25 525.52Z" fill="#1A6FDF"/>
<path d="M88.74 510.18L91.54 514.94L85.94 514.94Z" fill="#1A6FDF"/>
<path d="M92.77 500.19L95.57 504.95L89.97 504.95Z" fill="#1A6FDF"/>
<path d="M95.45 469.04L98.25 473.8L92.65 473.8Z" fill="#1A6FDF"/>
<path d="M98.14 456.11L100.94 460.87L95.34 460.87Z" fill="#1A6FDF"/>
<path d="M100.82 451.41L103.62 456.17L98.02 456.17Z" fill="#1A6FDF"/>
<path d="M103.51 478.45L106.31 483.21L100.71 483.21Z" fill="#1A6FDF"/>
<path d="M106.19 488.44L108.99 493.2L103.39 493.2Z" fill="#1A6FDF"/>
<path d="M108.88 497.25L111.68 502.01L106.08 502.01Z" fill="#1A6FDF"/>
<path d="M111.56 511.95L114.36 516.71L108.76 516.71Z" fill="#1A6FDF"/>
<path d="M114.25 503.72L117.05 508.48L111.45 508.48Z" fill="#1A6FDF"/>
<path d="M116.93 517.82L119.73 522.58L114.13 522.58Z" fill="#1A6FDF"/>
<path d="M119.62 508.42L122.42 513.18L116.82 513.18Z" fill="#1A6FDF"/>
<path d="M124.99 520.76L127.79 525.52L122.19 525.52Z" fill="#1A6FDF"/>
<path d="M130.36 517.82L133.16 522.58L127.56 522.58Z" fill="#1A6FDF"/>
<path d="M135.73 520.76L138.53 525.52L132.93 525.52Z" fill="#1A6FDF"/>
<path d="M141.1 523.7L143.9 528.46L138.3 528.46Z" fill="#1A6FDF"/>
<path d="M145.13 520.76L147.93 525.52L142.33 525.52Z" fill="#1A6FDF"/>
<path d="M150.5 517.82L153.3 522.58L147.7 522.58Z" fill="#1A6FDF"/>
<path d="M159.9 517.82L162.7 522.58L157.1 522.58Z" fill="#1A6FDF"/>
<path d="M169.3 523.7L172.1 528.46L166.5 528.46Z" fill="#1A6FDF"/>
<path d="M178.7 523.7L181.5 528.46L175.9 528.46Z" fill="#1A6FDF"/>
<path d="M188.09 523.7L190.89 528.46L185.29 528.46Z" fill="#1A6FDF"/>
<path d="M197.49 523.7L200.29 528.46L194.69 528.46Z" fill="#1A6FDF"/>
<path d="M206.89 523.7L209.69 528.46L204.09 528.46Z" fill="#1A6FDF"/>
<path d="M216.29 523.7L219.09 528.46L213.49 528.46Z" fill="#1A6FDF"/>
<path d="M225.69 523.7L228.49 528.46L222.89 528.46Z" fill="#1A6FDF"/>
<path d="M235.09 523.7L237.89 528.46L232.29 528.46Z" fill="#1A6FDF"/>
<path d="M244.48 523.7L247.28 528.46L241.68 528.46Z" fill="#1A6FDF"/>
<path d="M253.88 523.7L256.68 528.46L251.08 528.46Z" fill="#1A6FDF"/>
<path d="M263.28 523.7L266.08 528.46L260.48 528.46Z" fill="#1A6FDF"/>
<path d="M271.34 523.7L274.14 528.46L268.54 528.46Z" fill="#1A6FDF"/>
<path d="M282.08 523.7L284.88 528.46L279.28 528.46Z" fill="#1A6FDF"/>
<path d="M294.16 523.7L296.96 528.46L291.36 528.46Z" fill="#1A6FDF"/>
<path d="M303.56 523.7L306.36 528.46L300.76 528.46Z" fill="#1A6FDF"/>
<path d="M68.6 518.27V525.32M66.3 518.27H70.9M66.3 525.32H70.9M71.29 519.45V525.32M68.99 519.45H73.59M68.99 525.32H73.59M103.51 520.62V526.5M101.21 520.62H105.81M101.21 526.5H105.81M108.88 512.98V524.74M106.58 512.98H111.18M106.58 524.74H111.18M119.62 515.92V525.32M117.32 515.92H121.92M117.32 525.32H121.92M145.13 486.54V522.97M142.83 486.54H147.43M142.83 522.97H147.43M150.5 520.04V525.91M148.2 520.04H152.8M148.2 525.91H152.8M244.48 518.86V524.74M242.18 518.86H246.78M242.18 524.74H246.78" stroke="#37AD6B" stroke-width="1" fill="none"/>
<polyline points="68.6,521.8 71.29,522.39 73.97,525.32 76.66,526.5 79.34,526.5 82.03,526.5 86.05,526.5 88.74,526.5 92.77,526.5 95.45,526.5 98.14,524.74 100.82,526.5 103.51,523.56 106.19,526.5 108.88,518.86 111.56,526.5 114.25,523.56 116.93,526.5 119.62,520.62 124.99,526.5 130.36,526.5 135.73,526.5 141.1,522.97 145.13,504.75 150.5,522.97 159.9,526.5 169.3,526.5 178.7,526.5 188.09,526.5 197.49,526.5 206.89,526.5 216.29,526.5 225.69,526.5 235.09,526.5 244.48,521.8 253.88,526.5 263.28,526.5 271.34,526.5 282.08,526.5 294.16,526.5 303.56,526.5" stroke="#37AD6B" stroke-width="1.6" fill="none" stroke-linejoin="round"/>
<path d="M68.6 524.6L71.4 519.84L65.8 519.84Z" fill="#37AD6B"/>
<path d="M71.29 525.19L74.09 520.43L68.49 520.43Z" fill="#37AD6B"/>
<path d="M73.97 528.12L76.77 523.36L71.17 523.36Z" fill="#37AD6B"/>
<path d="M76.66 529.3L79.46 524.54L73.86 524.54Z" fill="#37AD6B"/>
<path d="M79.34 529.3L82.14 524.54L76.54 524.54Z" fill="#37AD6B"/>
<path d="M82.03 529.3L84.83 524.54L79.23 524.54Z" fill="#37AD6B"/>
<path d="M86.05 529.3L88.85 524.54L83.25 524.54Z" fill="#37AD6B"/>
<path d="M88.74 529.3L91.54 524.54L85.94 524.54Z" fill="#37AD6B"/>
<path d="M92.77 529.3L95.57 524.54L89.97 524.54Z" fill="#37AD6B"/>
<path d="M95.45 529.3L98.25 524.54L92.65 524.54Z" fill="#37AD6B"/>
<path d="M98.14 527.54L100.94 522.78L95.34 522.78Z" fill="#37AD6B"/>
<path d="M100.82 529.3L103.62 524.54L98.02 524.54Z" fill="#37AD6B"/>
<path d="M103.51 526.36L106.31 521.6L100.71 521.6Z" fill="#37AD6B"/>
<path d="M106.19 529.3L108.99 524.54L103.39 524.54Z" fill="#37AD6B"/>
<path d="M108.88 521.66L111.68 516.9L106.08 516.9Z" fill="#37AD6B"/>
<path d="M111.56 529.3L114.36 524.54L108.76 524.54Z" fill="#37AD6B"/>
<path d="M114.25 526.36L117.05 521.6L111.45 521.6Z" fill="#37AD6B"/>
<path d="M116.93 529.3L119.73 524.54L114.13 524.54Z" fill="#37AD6B"/>
<path d="M119.62 523.42L122.42 518.66L116.82 518.66Z" fill="#37AD6B"/>
<path d="M124.99 529.3L127.79 524.54L122.19 524.54Z" fill="#37AD6B"/>
<path d="M130.36 529.3L133.16 524.54L127.56 524.54Z" fill="#37AD6B"/>
<path d="M135.73 529.3L138.53 524.54L132.93 524.54Z" fill="#37AD6B"/>
<path d="M141.1 525.77L143.9 521.01L138.3 521.01Z" fill="#37AD6B"/>
<path d="M145.13 507.55L147.93 502.79L142.33 502.79Z" fill="#37AD6B"/>
<path d="M150.5 525.77L153.3 521.01L147.7 521.01Z" fill="#37AD6B"/>
<path d="M159.9 529.3L162.7 524.54L157.1 524.54Z" fill="#37AD6B"/>
<path d="M169.3 529.3L172.1 524.54L166.5 524.54Z" fill="#37AD6B"/>
<path d="M178.7 529.3L181.5 524.54L175.9 524.54Z" fill="#37AD6B"/>
<path d="M188.09 529.3L190.89 524.54L185.29 524.54Z" fill="#37AD6B"/>
<path d="M197.49 529.3L200.29 524.54L194.69 524.54Z" fill="#37AD6B"/>
<path d="M206.89 529.3L209.69 524.54L204.09 524.54Z" fill="#37AD6B"/>
<path d="M216.29 529.3L219.09 524.54L213.49 524.54Z" fill="#37AD6B"/>
<path d="M225.69 529.3L228.49 524.54L222.89 524.54Z" fill="#37AD6B"/>
<path d="M235.09 529.3L237.89 524.54L232.29 524.54Z" fill="#37AD6B"/>
<path d="M244.48 524.6L247.28 519.84L241.68 519.84Z" fill="#37AD6B"/>
<path d="M253.88 529.3L256.68 524.54L251.08 524.54Z" fill="#37AD6B"/>
<path d="M263.28 529.3L266.08 524.54L260.48 524.54Z" fill="#37AD6B"/>
<path d="M271.34 529.3L274.14 524.54L268.54 524.54Z" fill="#37AD6B"/>
<path d="M282.08 529.3L284.88 524.54L279.28 524.54Z" fill="#37AD6B"/>
<path d="M294.16 529.3L296.96 524.54L291.36 524.54Z" fill="#37AD6B"/>
<path d="M303.56 529.3L306.36 524.54L300.76 524.54Z" fill="#37AD6B"/>
</g>
<rect x="68.6" y="320.8" width="255.1" height="205.7" fill="none" stroke="#404040" stroke-width="1.05"/>
<path d="M68.6 526.5v-4M68.6 320.8v4M82.03 526.5v-2.2M82.03 320.8v2.2M95.45 526.5v-4M95.45 320.8v4M108.88 526.5v-2.2M108.88 320.8v2.2M122.31 526.5v-4M122.31 320.8v4M135.73 526.5v-2.2M135.73 320.8v2.2M149.16 526.5v-4M149.16 320.8v4M162.58 526.5v-2.2M162.58 320.8v2.2M176.01 526.5v-4M176.01 320.8v4M189.44 526.5v-2.2M189.44 320.8v2.2M202.86 526.5v-4M202.86 320.8v4M216.29 526.5v-2.2M216.29 320.8v2.2M229.72 526.5v-4M229.72 320.8v4M243.14 526.5v-2.2M243.14 320.8v2.2M256.57 526.5v-4M256.57 320.8v4M269.99 526.5v-2.2M269.99 320.8v2.2M283.42 526.5v-4M283.42 320.8v4M296.85 526.5v-2.2M296.85 320.8v2.2M310.27 526.5v-4M310.27 320.8v4M323.7 526.5v-2.2M323.7 320.8v2.2M68.6 526.5h4M323.7 526.5h-4M68.6 511.81h2.2M323.7 511.81h-2.2M68.6 497.11h4M323.7 497.11h-4M68.6 482.42h2.2M323.7 482.42h-2.2M68.6 467.73h4M323.7 467.73h-4M68.6 453.04h2.2M323.7 453.04h-2.2M68.6 438.34h4M323.7 438.34h-4M68.6 423.65h2.2M323.7 423.65h-2.2M68.6 408.96h4M323.7 408.96h-4M68.6 394.26h2.2M323.7 394.26h-2.2M68.6 379.57h4M323.7 379.57h-4M68.6 364.88h2.2M323.7 364.88h-2.2M68.6 350.19h4M323.7 350.19h-4M68.6 335.49h2.2M323.7 335.49h-2.2M68.6 320.8h4M323.7 320.8h-4" stroke="#404040" stroke-width="1.1" fill="none"/>
<text x="68.6" y="543.1" text-anchor="middle">0</text>
<text x="95.45" y="543.1" text-anchor="middle">20</text>
<text x="122.31" y="543.1" text-anchor="middle">40</text>
<text x="149.16" y="543.1" text-anchor="middle">60</text>
<text x="176.01" y="543.1" text-anchor="middle">80</text>
<text x="202.86" y="543.1" text-anchor="middle">100</text>
<text x="229.72" y="543.1" text-anchor="middle">120</text>
<text x="256.57" y="543.1" text-anchor="middle">140</text>
<text x="283.42" y="543.1" text-anchor="middle">160</text>
<text x="310.27" y="543.1" text-anchor="middle">180</text>
<text x="63.8" y="531.1" text-anchor="end">0.0</text>
<text x="63.8" y="501.71" text-anchor="end">0.5</text>
<text x="63.8" y="472.33" text-anchor="end">1.0</text>
<text x="63.8" y="442.94" text-anchor="end">1.5</text>
<text x="63.8" y="413.56" text-anchor="end">2.0</text>
<text x="63.8" y="384.17" text-anchor="end">2.5</text>
<text x="63.8" y="354.79" text-anchor="end">3.0</text>
<text x="63.8" y="325.4" text-anchor="end">3.5</text>
<clipPath id="c442320"><rect x="442.5" y="320.8" width="255.1" height="205.7"/></clipPath>
<g clip-path="url(#c442320)">
<path d="M459.95 518.86V524.74M457.65 518.86H462.25M457.65 524.74H462.25M466.67 515.92V525.32M464.37 515.92H468.97M464.37 525.32H468.97M469.35 500.05V517.68M467.05 500.05H471.65M467.05 517.68H471.65M472.04 488.3V511.81M469.74 488.3H474.34M469.74 511.81H474.34M474.72 481.83V504.17M472.42 481.83H477.02M472.42 504.17H477.02M477.41 488.3V511.81M475.11 488.3H479.71M475.11 511.81H479.71M480.09 488.3V511.81M477.79 488.3H482.39M477.79 511.81H482.39M482.78 481.83V504.17M480.48 481.83H485.08M480.48 504.17H485.08M485.46 488.3V511.81M483.16 488.3H487.76M483.16 511.81H487.76M488.15 490.65V515.33M485.85 490.65H490.45M485.85 515.33H490.45M490.83 505.93V523.56M488.53 505.93H493.13M488.53 523.56H493.13M509.63 510.63V525.91M507.33 510.63H511.93M507.33 525.91H511.93" stroke="#515151" stroke-width="1" fill="none"/>
<polyline points="442.5,526.5 445.19,526.5 447.87,526.5 450.56,526.5 453.24,526.5 455.93,526.5 459.95,521.8 462.64,524.74 466.67,520.62 469.35,508.87 472.04,500.05 474.72,493 477.41,500.05 480.09,500.05 482.78,493 485.46,500.05 488.15,502.99 490.83,514.75 493.52,521.8 498.89,524.74 504.26,524.74 509.63,518.27 515,525.32 519.03,526.5 524.4,526.5 533.8,526.5 543.2,526.5 552.6,526.5 561.99,526.5 571.39,526.5 580.79,526.5 590.19,526.5 599.59,526.5 608.99,526.5 618.38,526.5 627.78,526.5 637.18,526.5 645.24,526.5 655.98,526.5 668.06,526.5 677.46,526.5" stroke="#515151" stroke-width="1.6" fill="none" stroke-linejoin="round"/>
<rect x="440.4" y="524.4" width="4.2" height="4.2" fill="#515151"/>
<rect x="443.09" y="524.4" width="4.2" height="4.2" fill="#515151"/>
<rect x="445.77" y="524.4" width="4.2" height="4.2" fill="#515151"/>
<rect x="448.46" y="524.4" width="4.2" height="4.2" fill="#515151"/>
<rect x="451.14" y="524.4" width="4.2" height="4.2" fill="#515151"/>
<rect x="453.83" y="524.4" width="4.2" height="4.2" fill="#515151"/>
<rect x="457.85" y="519.7" width="4.2" height="4.2" fill="#515151"/>
<rect x="460.54" y="522.64" width="4.2" height="4.2" fill="#515151"/>
<rect x="464.57" y="518.52" width="4.2" height="4.2" fill="#515151"/>
<rect x="467.25" y="506.77" width="4.2" height="4.2" fill="#515151"/>
<rect x="469.94" y="497.95" width="4.2" height="4.2" fill="#515151"/>
<rect x="472.62" y="490.9" width="4.2" height="4.2" fill="#515151"/>
<rect x="475.31" y="497.95" width="4.2" height="4.2" fill="#515151"/>
<rect x="477.99" y="497.95" width="4.2" height="4.2" fill="#515151"/>
<rect x="480.68" y="490.9" width="4.2" height="4.2" fill="#515151"/>
<rect x="483.36" y="497.95" width="4.2" height="4.2" fill="#515151"/>
<rect x="486.05" y="500.89" width="4.2" height="4.2" fill="#515151"/>
<rect x="488.73" y="512.65" width="4.2" height="4.2" fill="#515151"/>
<rect x="491.42" y="519.7" width="4.2" height="4.2" fill="#515151"/>
<rect x="496.79" y="522.64" width="4.2" height="4.2" fill="#515151"/>
<rect x="502.16" y="522.64" width="4.2" height="4.2" fill="#515151"/>
<rect x="507.53" y="516.17" width="4.2" height="4.2" fill="#515151"/>
<rect x="512.9" y="523.22" width="4.2" height="4.2" fill="#515151"/>
<rect x="516.93" y="524.4" width="4.2" height="4.2" fill="#515151"/>
<rect x="522.3" y="524.4" width="4.2" height="4.2" fill="#515151"/>
<rect x="531.7" y="524.4" width="4.2" height="4.2" fill="#515151"/>
<rect x="541.1" y="524.4" width="4.2" height="4.2" fill="#515151"/>
<rect x="550.5" y="524.4" width="4.2" height="4.2" fill="#515151"/>
<rect x="559.89" y="524.4" width="4.2" height="4.2" fill="#515151"/>
<rect x="569.29" y="524.4" width="4.2" height="4.2" fill="#515151"/>
<rect x="578.69" y="524.4" width="4.2" height="4.2" fill="#515151"/>
<rect x="588.09" y="524.4" width="4.2" height="4.2" fill="#515151"/>
<rect x="597.49" y="524.4" width="4.2" height="4.2" fill="#515151"/>
<rect x="606.89" y="524.4" width="4.2" height="4.2" fill="#515151"/>
<rect x="616.28" y="524.4" width="4.2" height="4.2" fill="#515151"/>
<rect x="625.68" y="524.4" width="4.2" height="4.2" fill="#515151"/>
<rect x="635.08" y="524.4" width="4.2" height="4.2" fill="#515151"/>
<rect x="643.14" y="524.4" width="4.2" height="4.2" fill="#515151"/>
<rect x="653.88" y="524.4" width="4.2" height="4.2" fill="#515151"/>
<rect x="665.96" y="524.4" width="4.2" height="4.2" fill="#515151"/>
<rect x="675.36" y="524.4" width="4.2" height="4.2" fill="#515151"/>
<path d="M462.64 515.92V525.32M460.34 515.92H464.94M460.34 525.32H464.94M466.67 510.63V522.39M464.37 510.63H468.97M464.37 522.39H468.97M469.35 500.05V517.68M467.05 500.05H471.65M467.05 517.68H471.65M472.04 492.41V515.92M469.74 492.41H474.34M469.74 515.92H474.34M474.72 495.94V519.45M472.42 495.94H477.02M472.42 519.45H477.02M477.41 494.18V517.68M475.11 494.18H479.71M475.11 517.68H479.71M480.09 501.23V518.86M477.79 501.23H482.39M477.79 518.86H482.39M482.78 500.05V517.68M480.48 500.05H485.08M480.48 517.68H485.08M485.46 502.99V520.62M483.16 502.99H487.76M483.16 520.62H487.76M488.15 500.05V517.68M485.85 500.05H490.45M485.85 517.68H490.45M490.83 497.7V515.33M488.53 497.7H493.13M488.53 515.33H493.13M493.52 497.7V515.33M491.22 497.7H495.82M491.22 515.33H495.82M498.89 513.57V525.32M496.59 513.57H501.19M496.59 525.32H501.19M504.26 514.75V524.15M501.96 514.75H506.56M501.96 524.15H506.56M515 514.16V525.91M512.7 514.16H517.3M512.7 525.91H517.3" stroke="#F14040" stroke-width="1" fill="none"/>
<polyline points="442.5,526.5 445.19,526.5 447.87,525.32 450.56,526.5 453.24,526.5 455.93,526.5 459.95,524.74 462.64,520.62 466.67,516.51 469.35,508.87 472.04,504.17 474.72,507.69 477.41,505.93 480.09,510.04 482.78,508.87 485.46,511.81 488.15,508.87 490.83,506.52 493.52,506.52 498.89,519.45 504.26,519.45 509.63,523.56 515,520.04 519.03,523.56 524.4,526.5 533.8,526.5 543.2,526.5 552.6,526.5 561.99,526.5 571.39,526.5 580.79,526.5 590.19,526.5 599.59,526.5 608.99,526.5 618.38,526.5 627.78,526.5 637.18,526.5 645.24,526.5 655.98,526.5 668.06,526.5 677.46,526.5" stroke="#F14040" stroke-width="1.6" fill="none" stroke-linejoin="round"/>
<circle cx="442.5" cy="526.5" r="2.35" fill="#F14040"/>
<circle cx="445.19" cy="526.5" r="2.35" fill="#F14040"/>
<circle cx="447.87" cy="525.32" r="2.35" fill="#F14040"/>
<circle cx="450.56" cy="526.5" r="2.35" fill="#F14040"/>
<circle cx="453.24" cy="526.5" r="2.35" fill="#F14040"/>
<circle cx="455.93" cy="526.5" r="2.35" fill="#F14040"/>
<circle cx="459.95" cy="524.74" r="2.35" fill="#F14040"/>
<circle cx="462.64" cy="520.62" r="2.35" fill="#F14040"/>
<circle cx="466.67" cy="516.51" r="2.35" fill="#F14040"/>
<circle cx="469.35" cy="508.87" r="2.35" fill="#F14040"/>
<circle cx="472.04" cy="504.17" r="2.35" fill="#F14040"/>
<circle cx="474.72" cy="507.69" r="2.35" fill="#F14040"/>
<circle cx="477.41" cy="505.93" r="2.35" fill="#F14040"/>
<circle cx="480.09" cy="510.04" r="2.35" fill="#F14040"/>
<circle cx="482.78" cy="508.87" r="2.35" fill="#F14040"/>
<circle cx="485.46" cy="511.81" r="2.35" fill="#F14040"/>
<circle cx="488.15" cy="508.87" r="2.35" fill="#F14040"/>
<circle cx="490.83" cy="506.52" r="2.35" fill="#F14040"/>
<circle cx="493.52" cy="506.52" r="2.35" fill="#F14040"/>
<circle cx="498.89" cy="519.45" r="2.35" fill="#F14040"/>
<circle cx="504.26" cy="519.45" r="2.35" fill="#F14040"/>
<circle cx="509.63" cy="523.56" r="2.35" fill="#F14040"/>
<circle cx="515" cy="520.04" r="2.35" fill="#F14040"/>
<circle cx="519.03" cy="523.56" r="2.35" fill="#F14040"/>
<circle cx="524.4" cy="526.5" r="2.35" fill="#F14040"/>
<circle cx="533.8" cy="526.5" r="2.35" fill="#F14040"/>
<circle cx="543.2" cy="526.5" r="2.35" fill="#F14040"/>
<circle cx="552.6" cy="526.5" r="2.35" fill="#F14040"/>
<circle cx="561.99" cy="526.5" r="2.35" fill="#F14040"/>
<circle cx="571.39" cy="526.5" r="2.35" fill="#F14040"/>
<circle cx="580.79" cy="526.5" r="2.35" fill="#F14040"/>
<circle cx="590.19" cy="526.5" r="2.35" fill="#F14040"/>
<circle cx="599.59" cy="526.5" r="2.35" fill="#F14040"/>
<circle cx="608.99" cy="526.5" r="2.35" fill="#F14040"/>
<circle cx="618.38" cy="526.5" r="2.35" fill="#F14040"/>
<circle cx="627.78" cy="526.5" r="2.35" fill="#F14040"/>
<circle cx="637.18" cy="526.5" r="2.35" fill="#F14040"/>
<circle cx="645.24" cy="526.5" r="2.35" fill="#F14040"/>
<circle cx="655.98" cy="526.5" r="2.35" fill="#F14040"/>
<circle cx="668.06" cy="526.5" r="2.35" fill="#F14040"/>
<circle cx="677.46" cy="526.5" r="2.35" fill="#F14040"/>
<path d="M442.5 520.62V526.5M440.2 520.62H444.8M440.2 526.5H444.8M466.67 505.93V523.56M464.37 505.93H468.97M464.37 523.56H468.97M469.35 491.24V520.62M467.05 491.24H471.65M467.05 520.62H471.65M472.04 491.24V514.75M469.74 491.24H474.34M469.74 514.75H474.34M474.72 488.3V511.81M472.42 488.3H477.02M472.42 511.81H477.02M477.41 490.06V513.57M475.11 490.06H479.71M475.11 513.57H479.71M480.09 489.47V510.63M477.79 489.47H482.39M477.79 510.63H482.39M482.78 492.41V515.92M480.48 492.41H485.08M480.48 515.92H485.08M485.46 498.29V515.92M483.16 498.29H487.76M483.16 515.92H487.76M488.15 500.05V517.68M485.85 500.05H490.45M485.85 517.68H490.45M490.83 507.69V521.8M488.53 507.69H493.13M488.53 521.8H493.13M493.52 510.63V524.74M491.22 510.63H495.82M491.22 524.74H495.82M498.89 510.63V524.74M496.59 510.63H501.19M496.59 524.74H501.19" stroke="#1A6FDF" stroke-width="1" fill="none"/>
<polyline points="442.5,523.56 445.19,524.74 447.87,524.74 450.56,526.5 453.24,526.5 455.93,526.5 459.95,524.74 462.64,523.56 466.67,514.75 469.35,505.93 472.04,502.99 474.72,500.05 477.41,501.82 480.09,500.05 482.78,504.17 485.46,507.11 488.15,508.87 490.83,514.75 493.52,517.68 498.89,517.68 504.26,523.56 509.63,526.5 515,525.32 519.03,526.5 524.4,526.5 533.8,526.5 543.2,525.32 552.6,526.5 561.99,526.5 571.39,525.32 580.79,526.5 590.19,526.5 599.59,526.5 608.99,526.5 618.38,526.5 627.78,525.32 637.18,526.5 645.24,526.5 655.98,526.5 668.06,526.5 677.46,526.5" stroke="#1A6FDF" stroke-width="1.6" fill="none" stroke-linejoin="round"/>
<path d="M442.5 520.76L445.3 525.52L439.7 525.52Z" fill="#1A6FDF"/>
<path d="M445.19 521.94L447.99 526.7L442.39 526.7Z" fill="#1A6FDF"/>
<path d="M447.87 521.94L450.67 526.7L445.07 526.7Z" fill="#1A6FDF"/>
<path d="M450.56 523.7L453.36 528.46L447.76 528.46Z" fill="#1A6FDF"/>
<path d="M453.24 523.7L456.04 528.46L450.44 528.46Z" fill="#1A6FDF"/>
<path d="M455.93 523.7L458.73 528.46L453.13 528.46Z" fill="#1A6FDF"/>
<path d="M459.95 521.94L462.75 526.7L457.15 526.7Z" fill="#1A6FDF"/>
<path d="M462.64 520.76L465.44 525.52L459.84 525.52Z" fill="#1A6FDF"/>
<path d="M466.67 511.95L469.47 516.71L463.87 516.71Z" fill="#1A6FDF"/>
<path d="M469.35 503.13L472.15 507.89L466.55 507.89Z" fill="#1A6FDF"/>
<path d="M472.04 500.19L474.84 504.95L469.24 504.95Z" fill="#1A6FDF"/>
<path d="M474.72 497.25L477.52 502.01L471.92 502.01Z" fill="#1A6FDF"/>
<path d="M477.41 499.02L480.21 503.78L474.61 503.78Z" fill="#1A6FDF"/>
<path d="M480.09 497.25L482.89 502.01L477.29 502.01Z" fill="#1A6FDF"/>
<path d="M482.78 501.37L485.58 506.13L479.98 506.13Z" fill="#1A6FDF"/>
<path d="M485.46 504.31L488.26 509.07L482.66 509.07Z" fill="#1A6FDF"/>
<path d="M488.15 506.07L490.95 510.83L485.35 510.83Z" fill="#1A6FDF"/>
<path d="M490.83 511.95L493.63 516.71L488.03 516.71Z" fill="#1A6FDF"/>
<path d="M493.52 514.88L496.32 519.64L490.72 519.64Z" fill="#1A6FDF"/>
<path d="M498.89 514.88L501.69 519.64L496.09 519.64Z" fill="#1A6FDF"/>
<path d="M504.26 520.76L507.06 525.52L501.46 525.52Z" fill="#1A6FDF"/>
<path d="M509.63 523.7L512.43 528.46L506.83 528.46Z" fill="#1A6FDF"/>
<path d="M515 522.52L517.8 527.28L512.2 527.28Z" fill="#1A6FDF"/>
<path d="M519.03 523.7L521.83 528.46L516.23 528.46Z" fill="#1A6FDF"/>
<path d="M524.4 523.7L527.2 528.46L521.6 528.46Z" fill="#1A6FDF"/>
<path d="M533.8 523.7L536.6 528.46L531 528.46Z" fill="#1A6FDF"/>
<path d="M543.2 522.52L546 527.28L540.4 527.28Z" fill="#1A6FDF"/>
<path d="M552.6 523.7L555.4 528.46L549.8 528.46Z" fill="#1A6FDF"/>
<path d="M561.99 523.7L564.79 528.46L559.19 528.46Z" fill="#1A6FDF"/>
<path d="M571.39 522.52L574.19 527.28L568.59 527.28Z" fill="#1A6FDF"/>
<path d="M580.79 523.7L583.59 528.46L577.99 528.46Z" fill="#1A6FDF"/>
<path d="M590.19 523.7L592.99 528.46L587.39 528.46Z" fill="#1A6FDF"/>
<path d="M599.59 523.7L602.39 528.46L596.79 528.46Z" fill="#1A6FDF"/>
<path d="M608.99 523.7L611.79 528.46L606.19 528.46Z" fill="#1A6FDF"/>
<path d="M618.38 523.7L621.18 528.46L615.58 528.46Z" fill="#1A6FDF"/>
<path d="M627.78 522.52L630.58 527.28L624.98 527.28Z" fill="#1A6FDF"/>
<path d="M637.18 523.7L639.98 528.46L634.38 528.46Z" fill="#1A6FDF"/>
<path d="M645.24 523.7L648.04 528.46L642.44 528.46Z" fill="#1A6FDF"/>
<path d="M655.98 523.7L658.78 528.46L653.18 528.46Z" fill="#1A6FDF"/>
<path d="M668.06 523.7L670.86 528.46L665.26 528.46Z" fill="#1A6FDF"/>
<path d="M677.46 523.7L680.26 528.46L674.66 528.46Z" fill="#1A6FDF"/>
<path d="M442.5 517.68V527.09M440.2 517.68H444.8M440.2 527.09H444.8M445.19 517.68V527.09M442.89 517.68H447.49M442.89 527.09H447.49M480.09 512.98V524.74M477.79 512.98H482.39M477.79 524.74H482.39M519.03 486.54V524.15M516.73 486.54H521.33M516.73 524.15H521.33M524.4 519.45V525.32M522.1 519.45H526.7M522.1 525.32H526.7M618.38 518.86V524.74M616.08 518.86H620.68M616.08 524.74H620.68" stroke="#37AD6B" stroke-width="1" fill="none"/>
<polyline points="442.5,522.39 445.19,522.39 447.87,525.32 450.56,526.5 453.24,526.5 455.93,526.5 459.95,526.5 462.64,526.5 466.67,526.5 469.35,526.5 472.04,526.5 474.72,523.56 477.41,526.5 480.09,518.86 482.78,526.5 485.46,524.74 488.15,526.5 490.83,523.56 493.52,526.5 498.89,526.5 504.26,526.5 509.63,526.5 515,526.5 519.03,505.34 524.4,522.39 533.8,526.5 543.2,526.5 552.6,526.5 561.99,526.5 571.39,526.5 580.79,526.5 590.19,526.5 599.59,526.5 608.99,526.5 618.38,521.8 627.78,526.5 637.18,526.5 645.24,526.5 655.98,526.5 668.06,526.5 677.46,526.5" stroke="#37AD6B" stroke-width="1.6" fill="none" stroke-linejoin="round"/>
<path d="M442.5 525.19L445.3 520.43L439.7 520.43Z" fill="#37AD6B"/>
<path d="M445.19 525.19L447.99 520.43L442.39 520.43Z" fill="#37AD6B"/>
<path d="M447.87 528.12L450.67 523.36L445.07 523.36Z" fill="#37AD6B"/>
<path d="M450.56 529.3L453.36 524.54L447.76 524.54Z" fill="#37AD6B"/>
<path d="M453.24 529.3L456.04 524.54L450.44 524.54Z" fill="#37AD6B"/>
<path d="M455.93 529.3L458.73 524.54L453.13 524.54Z" fill="#37AD6B"/>
<path d="M459.95 529.3L462.75 524.54L457.15 524.54Z" fill="#37AD6B"/>
<path d="M462.64 529.3L465.44 524.54L459.84 524.54Z" fill="#37AD6B"/>
<path d="M466.67 529.3L469.47 524.54L463.87 524.54Z" fill="#37AD6B"/>
<path d="M469.35 529.3L472.15 524.54L466.55 524.54Z" fill="#37AD6B"/>
<path d="M472.04 529.3L474.84 524.54L469.24 524.54Z" fill="#37AD6B"/>
<path d="M474.72 526.36L477.52 521.6L471.92 521.6Z" fill="#37AD6B"/>
<path d="M477.41 529.3L480.21 524.54L474.61 524.54Z" fill="#37AD6B"/>
<path d="M480.09 521.66L482.89 516.9L477.29 516.9Z" fill="#37AD6B"/>
<path d="M482.78 529.3L485.58 524.54L479.98 524.54Z" fill="#37AD6B"/>
<path d="M485.46 527.54L488.26 522.78L482.66 522.78Z" fill="#37AD6B"/>
<path d="M488.15 529.3L490.95 524.54L485.35 524.54Z" fill="#37AD6B"/>
<path d="M490.83 526.36L493.63 521.6L488.03 521.6Z" fill="#37AD6B"/>
<path d="M493.52 529.3L496.32 524.54L490.72 524.54Z" fill="#37AD6B"/>
<path d="M498.89 529.3L501.69 524.54L496.09 524.54Z" fill="#37AD6B"/>
<path d="M504.26 529.3L507.06 524.54L501.46 524.54Z" fill="#37AD6B"/>
<path d="M509.63 529.3L512.43 524.54L506.83 524.54Z" fill="#37AD6B"/>
<path d="M515 529.3L517.8 524.54L512.2 524.54Z" fill="#37AD6B"/>
<path d="M519.03 508.14L521.83 503.38L516.23 503.38Z" fill="#37AD6B"/>
<path d="M524.4 525.19L527.2 520.43L521.6 520.43Z" fill="#37AD6B"/>
<path d="M533.8 529.3L536.6 524.54L531 524.54Z" fill="#37AD6B"/>
<path d="M543.2 529.3L546 524.54L540.4 524.54Z" fill="#37AD6B"/>
<path d="M552.6 529.3L555.4 524.54L549.8 524.54Z" fill="#37AD6B"/>
<path d="M561.99 529.3L564.79 524.54L559.19 524.54Z" fill="#37AD6B"/>
<path d="M571.39 529.3L574.19 524.54L568.59 524.54Z" fill="#37AD6B"/>
<path d="M580.79 529.3L583.59 524.54L577.99 524.54Z" fill="#37AD6B"/>
<path d="M590.19 529.3L592.99 524.54L587.39 524.54Z" fill="#37AD6B"/>
<path d="M599.59 529.3L602.39 524.54L596.79 524.54Z" fill="#37AD6B"/>
<path d="M608.99 529.3L611.79 524.54L606.19 524.54Z" fill="#37AD6B"/>
<path d="M618.38 524.6L621.18 519.84L615.58 519.84Z" fill="#37AD6B"/>
<path d="M627.78 529.3L630.58 524.54L624.98 524.54Z" fill="#37AD6B"/>
<path d="M637.18 529.3L639.98 524.54L634.38 524.54Z" fill="#37AD6B"/>
<path d="M645.24 529.3L648.04 524.54L642.44 524.54Z" fill="#37AD6B"/>
<path d="M655.98 529.3L658.78 524.54L653.18 524.54Z" fill="#37AD6B"/>
<path d="M668.06 529.3L670.86 524.54L665.26 524.54Z" fill="#37AD6B"/>
<path d="M677.46 529.3L680.26 524.54L674.66 524.54Z" fill="#37AD6B"/>
</g>
<rect x="442.5" y="320.8" width="255.1" height="205.7" fill="none" stroke="#404040" stroke-width="1.05"/>
<path d="M442.5 526.5v-4M442.5 320.8v4M455.93 526.5v-2.2M455.93 320.8v2.2M469.35 526.5v-4M469.35 320.8v4M482.78 526.5v-2.2M482.78 320.8v2.2M496.21 526.5v-4M496.21 320.8v4M509.63 526.5v-2.2M509.63 320.8v2.2M523.06 526.5v-4M523.06 320.8v4M536.48 526.5v-2.2M536.48 320.8v2.2M549.91 526.5v-4M549.91 320.8v4M563.34 526.5v-2.2M563.34 320.8v2.2M576.76 526.5v-4M576.76 320.8v4M590.19 526.5v-2.2M590.19 320.8v2.2M603.62 526.5v-4M603.62 320.8v4M617.04 526.5v-2.2M617.04 320.8v2.2M630.47 526.5v-4M630.47 320.8v4M643.89 526.5v-2.2M643.89 320.8v2.2M657.32 526.5v-4M657.32 320.8v4M670.75 526.5v-2.2M670.75 320.8v2.2M684.17 526.5v-4M684.17 320.8v4M697.6 526.5v-2.2M697.6 320.8v2.2M442.5 526.5h4M697.6 526.5h-4M442.5 511.81h2.2M697.6 511.81h-2.2M442.5 497.11h4M697.6 497.11h-4M442.5 482.42h2.2M697.6 482.42h-2.2M442.5 467.73h4M697.6 467.73h-4M442.5 453.04h2.2M697.6 453.04h-2.2M442.5 438.34h4M697.6 438.34h-4M442.5 423.65h2.2M697.6 423.65h-2.2M442.5 408.96h4M697.6 408.96h-4M442.5 394.26h2.2M697.6 394.26h-2.2M442.5 379.57h4M697.6 379.57h-4M442.5 364.88h2.2M697.6 364.88h-2.2M442.5 350.19h4M697.6 350.19h-4M442.5 335.49h2.2M697.6 335.49h-2.2M442.5 320.8h4M697.6 320.8h-4" stroke="#404040" stroke-width="1.1" fill="none"/>
<text x="442.5" y="543.1" text-anchor="middle">0</text>
<text x="469.35" y="543.1" text-anchor="middle">20</text>
<text x="496.21" y="543.1" text-anchor="middle">40</text>
<text x="523.06" y="543.1" text-anchor="middle">60</text>
<text x="549.91" y="543.1" text-anchor="middle">80</text>
<text x="576.76" y="543.1" text-anchor="middle">100</text>
<text x="603.62" y="543.1" text-anchor="middle">120</text>
<text x="630.47" y="543.1" text-anchor="middle">140</text>
<text x="657.32" y="543.1" text-anchor="middle">160</text>
<text x="684.17" y="543.1" text-anchor="middle">180</text>
<text x="437.7" y="531.1" text-anchor="end">0.0</text>
<text x="437.7" y="501.71" text-anchor="end">0.5</text>
<text x="437.7" y="472.33" text-anchor="end">1.0</text>
<text x="437.7" y="442.94" text-anchor="end">1.5</text>
<text x="437.7" y="413.56" text-anchor="end">2.0</text>
<text x="437.7" y="384.17" text-anchor="end">2.5</text>
<text x="437.7" y="354.79" text-anchor="end">3.0</text>
<text x="437.7" y="325.4" text-anchor="end">3.5</text>
<g font-size="14.65">
<text x="195.9" y="277.3" text-anchor="middle">Time after irradiation [d]</text>
<text x="570.2" y="277.3" text-anchor="middle">Time after irradiation [d]</text>
<text x="196.2" y="564" text-anchor="middle">Time after irradiation [d]</text>
<text x="570.3" y="564" text-anchor="middle">Time after irradiation [d]</text>
<text transform="translate(35.8 137.2) rotate(-90)" text-anchor="middle">Ear swelling [µm]</text>
<text transform="translate(410.1 137.2) rotate(-90)" text-anchor="middle">Ear swelling [µm]</text>
<text transform="translate(39.8 423.7) rotate(-90)" text-anchor="middle">Inflammation score</text>
<text transform="translate(413.9 423.7) rotate(-90)" text-anchor="middle">Inflammation score</text>
</g>
<text x="163.5" y="25.8">33 Gy</text>
<text x="563" y="25.8">23 Gy</text>
</g>
<rect x="223.2" y="41.4" width="93.3" height="67.6" fill="#fff" stroke="#2b2b2b" stroke-width="1.1"/>
<path d="M224.6 50.6H255.8" stroke="#515151" stroke-width="1.6"/>
<rect x="237.9" y="48.5" width="4.2" height="4.2" fill="#515151"/>
<text x="259.3" y="55" font-size="13.5">Conv</text>
<path d="M224.6 67.0H255.8" stroke="#F14040" stroke-width="1.6"/>
<circle cx="240" cy="67" r="2.35" fill="#F14040"/>
<text x="259.3" y="71.4" font-size="13.5">Flash9</text>
<path d="M224.6 83.9H255.8" stroke="#1A6FDF" stroke-width="1.6"/>
<path d="M240 81.1L242.8 85.86L237.2 85.86Z" fill="#1A6FDF"/>
<text x="259.3" y="88.3" font-size="13.5">Flash930</text>
<path d="M224.6 100.2H255.8" stroke="#37AD6B" stroke-width="1.6"/>
<path d="M240 103L242.8 98.24L237.2 98.24Z" fill="#37AD6B"/>
<text x="259.3" y="104.6" font-size="13.5">Sham</text>
<rect x="1.3" y="1.0" width="20.3" height="24.5" fill="#000"/>
<text x="10.9" y="21.0" text-anchor="middle" font-size="22" style="fill:#fff;stroke:none">a</text>
<rect x="376.2" y="1.2" width="20.3" height="24.4" fill="#000"/>
<text x="386.6" y="21.2" text-anchor="middle" font-size="22" style="fill:#fff;stroke:none">b</text>
<rect x="1.6" y="272.4" width="19.6" height="24.4" fill="#000"/>
<text x="10.9" y="290.6" text-anchor="middle" font-size="22" style="fill:#fff;stroke:none">c</text>
<rect x="375.5" y="271.8" width="20.0" height="25.0" fill="#000"/>
<text x="384.8" y="291.8" text-anchor="middle" font-size="22" style="fill:#fff;stroke:none">d</text>
</svg></body></html>
